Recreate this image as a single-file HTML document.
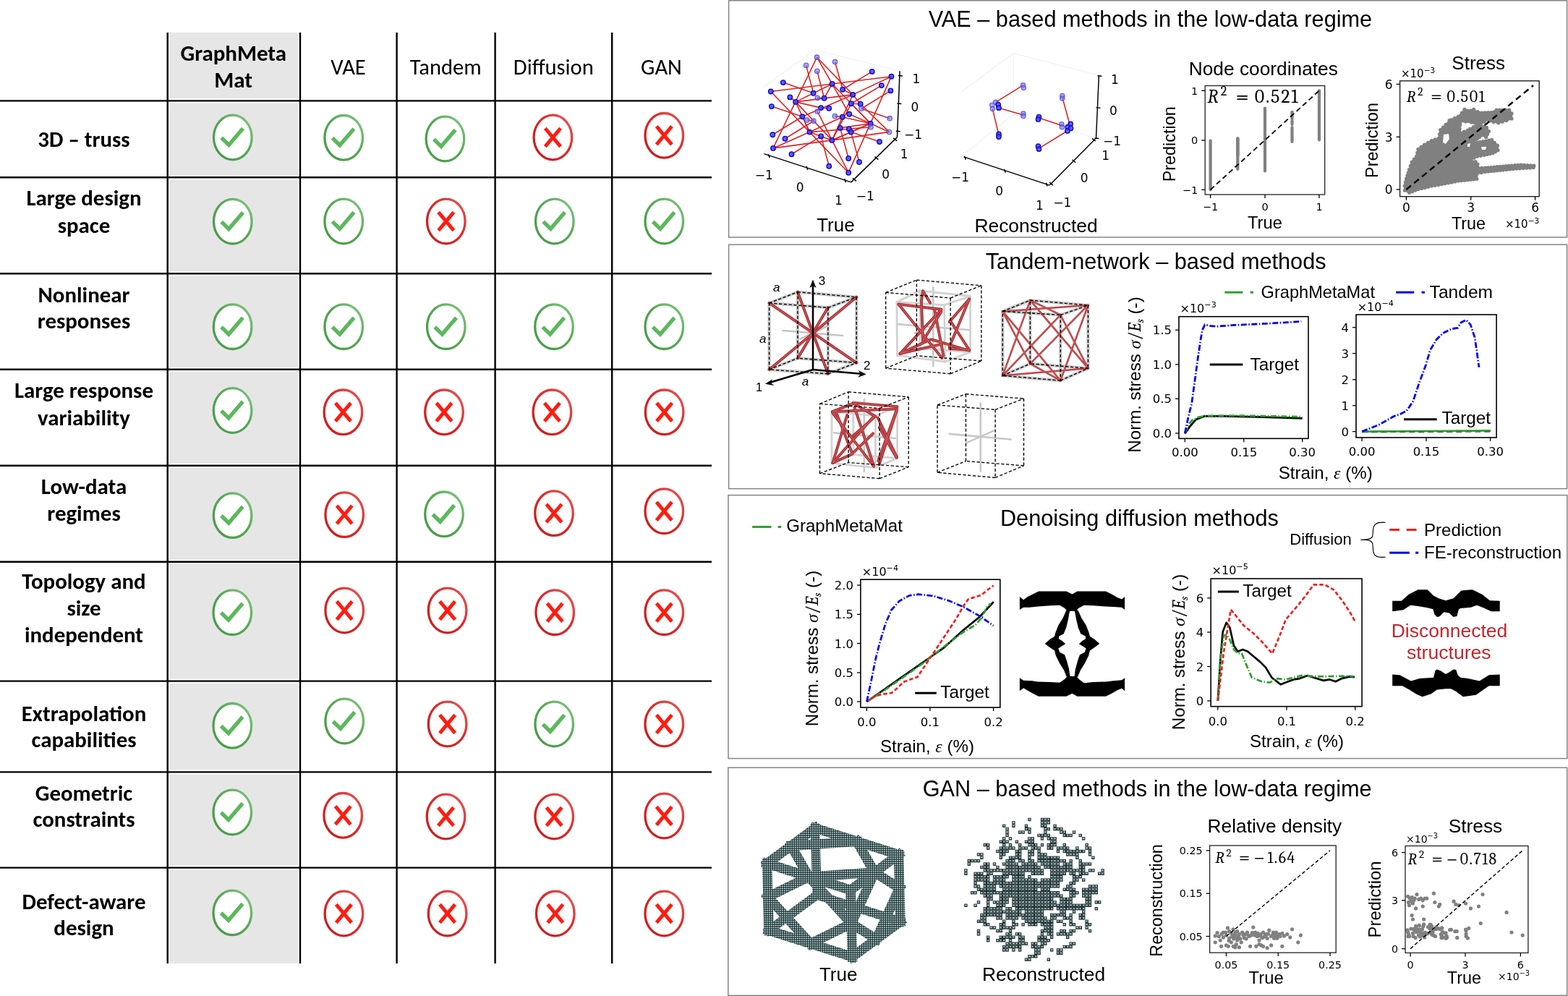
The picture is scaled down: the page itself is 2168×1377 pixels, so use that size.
<!DOCTYPE html>
<html><head><meta charset="utf-8"><title>GraphMetaMat comparison</title>
<style>html,body{margin:0;padding:0;background:#fff;width:2168px;height:1377px;overflow:hidden}svg{display:block}</style>
</head><body>
<svg width="2168" height="1377" viewBox="0 0 2168 1377">
<defs>
<linearGradient id="gg" x1="0" y1="1" x2="1" y2="0"><stop offset="0" stop-color="#469a46"/><stop offset="0.55" stop-color="#56a856"/><stop offset="1" stop-color="#86c886"/></linearGradient>
<linearGradient id="rg" x1="0" y1="1" x2="1" y2="0"><stop offset="0" stop-color="#c41c1c"/><stop offset="0.55" stop-color="#dc2a2a"/><stop offset="1" stop-color="#e65a5a"/></linearGradient>
<g id="ic"><ellipse cx="0" cy="0" rx="26.3" ry="30.8" fill="#fff" stroke="url(#gg)" stroke-width="3.3"/>
<polyline points="-15.6,0.4 -5.4,10.4 14.2,-12.4" fill="none" stroke="#5cb85c" stroke-width="5.4" stroke-linejoin="miter"/></g>
<g id="ix"><ellipse cx="0" cy="0" rx="26.3" ry="30.8" fill="#fff" stroke="url(#rg)" stroke-width="3.3"/>
<path d="M-10.6,-12.6 L10.6,12.6 M10.6,-12.6 L-10.6,12.6" fill="none" stroke="#ff1c10" stroke-width="5"/></g>
<pattern id="vox2" width="4.4" height="4.4" patternUnits="userSpaceOnUse"><rect width="4.4" height="4.4" fill="#1c2a2c"/><rect x="1.1" y="1.0" width="2.1" height="2.0" fill="#bfe4e4"/></pattern><pattern id="vox" width="3" height="3" patternUnits="userSpaceOnUse"><rect width="3" height="3" fill="#1c2a2c"/><rect x="0.8" y="0.7" width="1.9" height="1.7" fill="#c4eaea"/></pattern></defs>
<rect width="2168" height="1377" fill="#fff"/>
<g stroke="#f1f1f1" stroke-width="1.2" fill="none">
<polyline points="1055.2,120.7 1127,69 1243,98"/>
<polyline points="1127,69 1127,158 1055,212"/>
<polyline points="1127,158 1240,189"/>
</g>
<g stroke="#dc2424" stroke-width="1.6" fill="none">
<line x1="1129.5" y1="79.2" x2="1069" y2="204.9"/>
<line x1="1129.5" y1="79.2" x2="1150.6" y2="116"/>
<line x1="1129.5" y1="79.2" x2="1179.2" y2="130.9"/>
<line x1="1154.5" y1="85.5" x2="1165.2" y2="123.7"/>
<line x1="1114.6" y1="90.4" x2="1124.6" y2="128.8"/>
<line x1="1129.8" y1="98.4" x2="1139.6" y2="135.7"/>
<line x1="1205.7" y1="98.9" x2="1165.2" y2="123.7"/>
<line x1="1065.8" y1="126.5" x2="1232.5" y2="105.7"/>
<line x1="1232.5" y1="105.7" x2="1179.2" y2="130.9"/>
<line x1="1232.5" y1="105.7" x2="1173.2" y2="238.7"/>
<line x1="1082.8" y1="114.1" x2="1124.6" y2="128.8"/>
<line x1="1065.8" y1="126.5" x2="1119.4" y2="182.6"/>
<line x1="1100.1" y1="140.9" x2="1150.6" y2="116"/>
<line x1="1100.1" y1="140.9" x2="1179.2" y2="130.9"/>
<line x1="1100.1" y1="140.9" x2="1135.1" y2="149.1"/>
<line x1="1100.1" y1="140.9" x2="1150.4" y2="193.9"/>
<line x1="1100.1" y1="140.9" x2="1119.4" y2="182.6"/>
<line x1="1092.3" y1="134.4" x2="1100.1" y2="140.9"/>
<line x1="1066.8" y1="147.1" x2="1109.4" y2="161.2"/>
<line x1="1130.2" y1="135.4" x2="1139.6" y2="135.7"/>
<line x1="1150.6" y1="116" x2="1139.6" y2="135.7"/>
<line x1="1150.6" y1="116" x2="1174.3" y2="157.8"/>
<line x1="1150.6" y1="116" x2="1203.6" y2="170.8"/>
<line x1="1165.2" y1="123.7" x2="1179.2" y2="130.9"/>
<line x1="1218.8" y1="118.1" x2="1176.9" y2="143.3"/>
<line x1="1109.4" y1="161.2" x2="1179.2" y2="130.9"/>
<line x1="1179.2" y1="130.9" x2="1164.8" y2="161.8"/>
<line x1="1179.2" y1="130.9" x2="1189.7" y2="143.7"/>
<line x1="1176.9" y1="143.3" x2="1189.7" y2="143.7"/>
<line x1="1176.9" y1="143.3" x2="1203.6" y2="170.8"/>
<line x1="1231.4" y1="125.4" x2="1191" y2="150.2"/>
<line x1="1191" y1="150.2" x2="1230.2" y2="163.7"/>
<line x1="1189.7" y1="143.7" x2="1229.4" y2="182.4"/>
<line x1="1069" y1="204.9" x2="1119.4" y2="182.6"/>
<line x1="1069" y1="204.9" x2="1150.4" y2="193.9"/>
<line x1="1068.3" y1="186.3" x2="1109.4" y2="161.2"/>
<line x1="1085.5" y1="191.8" x2="1124.9" y2="167.2"/>
<line x1="1094.5" y1="213.2" x2="1135.2" y2="188.4"/>
<line x1="1119.4" y1="182.6" x2="1164.8" y2="161.8"/>
<line x1="1119.4" y1="182.6" x2="1204" y2="175.7"/>
<line x1="1109.4" y1="161.2" x2="1119.4" y2="182.6"/>
<line x1="1119.4" y1="182.6" x2="1173.2" y2="238.7"/>
<line x1="1135.2" y1="188.4" x2="1146.3" y2="229.8"/>
<line x1="1135.2" y1="188.4" x2="1150.4" y2="193.9"/>
<line x1="1119.4" y1="182.6" x2="1135.2" y2="188.4"/>
<line x1="1150.4" y1="193.9" x2="1176.9" y2="143.3"/>
<line x1="1150.4" y1="193.9" x2="1173.2" y2="238.7"/>
<line x1="1130.3" y1="154.1" x2="1150.4" y2="193.9"/>
<line x1="1174.3" y1="157.8" x2="1203.6" y2="170.8"/>
<line x1="1164.8" y1="161.8" x2="1203.6" y2="170.8"/>
<line x1="1203.6" y1="170.8" x2="1229.4" y2="182.4"/>
<line x1="1203.6" y1="170.8" x2="1150.4" y2="193.9"/>
<line x1="1203.6" y1="170.8" x2="1161.7" y2="176.9"/>
<line x1="1203.6" y1="170.8" x2="1176.6" y2="182.6"/>
<line x1="1176.6" y1="182.6" x2="1216" y2="196"/>
<line x1="1150.4" y1="193.9" x2="1229.4" y2="182.4"/>
<line x1="1150.4" y1="193.9" x2="1176.6" y2="182.6"/>
<line x1="1150.4" y1="193.9" x2="1164.8" y2="161.8"/>
<line x1="1161.7" y1="176.9" x2="1173.2" y2="219"/>
<line x1="1176.6" y1="182.6" x2="1188" y2="224"/>
<line x1="1135.1" y1="149.1" x2="1146.2" y2="149.8"/>
<line x1="1115.9" y1="166" x2="1124.9" y2="167.2"/>
<line x1="1154.4" y1="160.6" x2="1164.8" y2="161.8"/>
</g>
<circle cx="1129.5" cy="79.2" r="3.2" fill="#7474ee" fill-opacity="0.6" stroke="#5050dc" stroke-width="1.3" stroke-opacity="0.85"/>
<circle cx="1154.5" cy="85.5" r="3.2" fill="#7474ee" fill-opacity="0.6" stroke="#5050dc" stroke-width="1.3" stroke-opacity="0.85"/>
<circle cx="1114.6" cy="90.4" r="3.2" fill="#7474ee" fill-opacity="0.6" stroke="#5050dc" stroke-width="1.3" stroke-opacity="0.85"/>
<circle cx="1129.8" cy="98.4" r="3.2" fill="#7474ee" fill-opacity="0.6" stroke="#5050dc" stroke-width="1.3" stroke-opacity="0.85"/>
<circle cx="1205.7" cy="98.9" r="3.2" fill="#4a4af2" fill-opacity="0.85" stroke="#1010cc" stroke-width="1.5"/>
<circle cx="1232.5" cy="105.7" r="3.2" fill="#4a4af2" fill-opacity="0.85" stroke="#1010cc" stroke-width="1.5"/>
<circle cx="1082.8" cy="114.1" r="3.2" fill="#4a4af2" fill-opacity="0.85" stroke="#1010cc" stroke-width="1.5"/>
<circle cx="1150.6" cy="116" r="3.2" fill="#4a4af2" fill-opacity="0.85" stroke="#1010cc" stroke-width="1.5"/>
<circle cx="1218.8" cy="118.1" r="3.2" fill="#4a4af2" fill-opacity="0.85" stroke="#1010cc" stroke-width="1.5"/>
<circle cx="1165.2" cy="123.7" r="3.2" fill="#4a4af2" fill-opacity="0.85" stroke="#1010cc" stroke-width="1.5"/>
<circle cx="1065.8" cy="126.5" r="3.2" fill="#4a4af2" fill-opacity="0.85" stroke="#1010cc" stroke-width="1.5"/>
<circle cx="1231.4" cy="125.4" r="3.2" fill="#4a4af2" fill-opacity="0.85" stroke="#1010cc" stroke-width="1.5"/>
<circle cx="1124.6" cy="128.8" r="3.2" fill="#4a4af2" fill-opacity="0.85" stroke="#1010cc" stroke-width="1.5"/>
<circle cx="1179.2" cy="130.9" r="3.2" fill="#4a4af2" fill-opacity="0.85" stroke="#1010cc" stroke-width="1.5"/>
<circle cx="1092.3" cy="134.4" r="3.2" fill="#4a4af2" fill-opacity="0.85" stroke="#1010cc" stroke-width="1.5"/>
<circle cx="1130.2" cy="135.4" r="3.2" fill="#7474ee" fill-opacity="0.6" stroke="#5050dc" stroke-width="1.3" stroke-opacity="0.85"/>
<circle cx="1139.6" cy="135.7" r="3.2" fill="#4a4af2" fill-opacity="0.85" stroke="#1010cc" stroke-width="1.5"/>
<circle cx="1100.1" cy="140.9" r="3.2" fill="#4a4af2" fill-opacity="0.85" stroke="#1010cc" stroke-width="1.5"/>
<circle cx="1176.9" cy="143.3" r="3.2" fill="#4a4af2" fill-opacity="0.85" stroke="#1010cc" stroke-width="1.5"/>
<circle cx="1189.7" cy="143.7" r="3.2" fill="#4a4af2" fill-opacity="0.85" stroke="#1010cc" stroke-width="1.5"/>
<circle cx="1066.8" cy="147.1" r="3.2" fill="#4a4af2" fill-opacity="0.85" stroke="#1010cc" stroke-width="1.5"/>
<circle cx="1135.1" cy="149.1" r="3.2" fill="#4a4af2" fill-opacity="0.85" stroke="#1010cc" stroke-width="1.5"/>
<circle cx="1146.2" cy="149.8" r="3.2" fill="#4a4af2" fill-opacity="0.85" stroke="#1010cc" stroke-width="1.5"/>
<circle cx="1191" cy="150.2" r="3.2" fill="#7474ee" fill-opacity="0.6" stroke="#5050dc" stroke-width="1.3" stroke-opacity="0.85"/>
<circle cx="1130.3" cy="154.1" r="3.2" fill="#7474ee" fill-opacity="0.6" stroke="#5050dc" stroke-width="1.3" stroke-opacity="0.85"/>
<circle cx="1174.3" cy="157.8" r="3.2" fill="#4a4af2" fill-opacity="0.85" stroke="#1010cc" stroke-width="1.5"/>
<circle cx="1109.4" cy="161.2" r="3.2" fill="#4a4af2" fill-opacity="0.85" stroke="#1010cc" stroke-width="1.5"/>
<circle cx="1154.4" cy="160.6" r="3.2" fill="#7474ee" fill-opacity="0.6" stroke="#5050dc" stroke-width="1.3" stroke-opacity="0.85"/>
<circle cx="1164.8" cy="161.8" r="3.2" fill="#4a4af2" fill-opacity="0.85" stroke="#1010cc" stroke-width="1.5"/>
<circle cx="1230.2" cy="163.7" r="3.2" fill="#7474ee" fill-opacity="0.6" stroke="#5050dc" stroke-width="1.3" stroke-opacity="0.85"/>
<circle cx="1115.9" cy="166" r="3.2" fill="#7474ee" fill-opacity="0.6" stroke="#5050dc" stroke-width="1.3" stroke-opacity="0.85"/>
<circle cx="1124.9" cy="167.2" r="3.2" fill="#7474ee" fill-opacity="0.6" stroke="#5050dc" stroke-width="1.3" stroke-opacity="0.85"/>
<circle cx="1203.6" cy="170.8" r="3.2" fill="#4a4af2" fill-opacity="0.85" stroke="#1010cc" stroke-width="1.5"/>
<circle cx="1204" cy="175.7" r="3.2" fill="#7474ee" fill-opacity="0.6" stroke="#5050dc" stroke-width="1.3" stroke-opacity="0.85"/>
<circle cx="1161.7" cy="176.9" r="3.2" fill="#4a4af2" fill-opacity="0.85" stroke="#1010cc" stroke-width="1.5"/>
<circle cx="1173.9" cy="178.4" r="3.2" fill="#4a4af2" fill-opacity="0.85" stroke="#1010cc" stroke-width="1.5"/>
<circle cx="1176.6" cy="182.6" r="3.2" fill="#4a4af2" fill-opacity="0.85" stroke="#1010cc" stroke-width="1.5"/>
<circle cx="1119.4" cy="182.6" r="3.2" fill="#4a4af2" fill-opacity="0.85" stroke="#1010cc" stroke-width="1.5"/>
<circle cx="1229.4" cy="182.4" r="3.2" fill="#7474ee" fill-opacity="0.6" stroke="#5050dc" stroke-width="1.3" stroke-opacity="0.85"/>
<circle cx="1068.3" cy="186.3" r="3.2" fill="#4a4af2" fill-opacity="0.85" stroke="#1010cc" stroke-width="1.5"/>
<circle cx="1085.5" cy="191.8" r="3.2" fill="#4a4af2" fill-opacity="0.85" stroke="#1010cc" stroke-width="1.5"/>
<circle cx="1135.2" cy="188.4" r="3.2" fill="#4a4af2" fill-opacity="0.85" stroke="#1010cc" stroke-width="1.5"/>
<circle cx="1150.4" cy="193.9" r="3.2" fill="#4a4af2" fill-opacity="0.85" stroke="#1010cc" stroke-width="1.5"/>
<circle cx="1216" cy="196" r="3.2" fill="#4a4af2" fill-opacity="0.85" stroke="#1010cc" stroke-width="1.5"/>
<circle cx="1069" cy="204.9" r="3.2" fill="#4a4af2" fill-opacity="0.85" stroke="#1010cc" stroke-width="1.5"/>
<circle cx="1094.5" cy="213.2" r="3.2" fill="#4a4af2" fill-opacity="0.85" stroke="#1010cc" stroke-width="1.5"/>
<circle cx="1173.2" cy="219" r="3.2" fill="#4a4af2" fill-opacity="0.85" stroke="#1010cc" stroke-width="1.5"/>
<circle cx="1188" cy="224" r="3.2" fill="#4a4af2" fill-opacity="0.85" stroke="#1010cc" stroke-width="1.5"/>
<circle cx="1146.3" cy="229.8" r="3.2" fill="#4a4af2" fill-opacity="0.85" stroke="#1010cc" stroke-width="1.5"/>
<circle cx="1173.2" cy="238.7" r="3.2" fill="#4a4af2" fill-opacity="0.85" stroke="#1010cc" stroke-width="1.5"/>
<g stroke="#000" stroke-width="1.5" fill="none">
<line x1="1244.1" y1="98.3" x2="1240.5" y2="189.6"/>
<line x1="1056.4" y1="212.6" x2="1176.8" y2="251.9"/>
<line x1="1176.8" y1="251.9" x2="1240.5" y2="189.6"/>
<line x1="1242" y1="104.6" x2="1248" y2="105.1"/>
<line x1="1240.4" y1="143.1" x2="1246.4" y2="143.6"/>
<line x1="1238.8" y1="181.3" x2="1244.8" y2="181.8"/>
<line x1="1062.3" y1="213.3" x2="1064.3" y2="218.3"/>
<line x1="1114.9" y1="229.9" x2="1116.9" y2="234.9"/>
<line x1="1167.5" y1="247.1" x2="1169.5" y2="252.1"/>
<line x1="1179" y1="246.3" x2="1184" y2="250.3"/>
<line x1="1209.4" y1="216.7" x2="1214.4" y2="220.7"/>
<line x1="1235.2" y1="190.9" x2="1240.2" y2="194.9"/>
</g>
<text x="1266.8" y="115.4965" font-size="17px" font-family="'DejaVu Sans', sans-serif" text-anchor="middle" fill="#000"  textLength="10.83" lengthAdjust="spacingAndGlyphs">1</text>
<text x="1264.8" y="154.1965" font-size="17px" font-family="'DejaVu Sans', sans-serif" text-anchor="middle" fill="#000"  textLength="10.83" lengthAdjust="spacingAndGlyphs">0</text>
<text x="1262.6" y="191.5965" font-size="17px" font-family="'DejaVu Sans', sans-serif" text-anchor="middle" fill="#000"  textLength="25.06" lengthAdjust="spacingAndGlyphs">−1</text>
<text x="1056.4" y="248.39649999999997" font-size="17px" font-family="'DejaVu Sans', sans-serif" text-anchor="middle" fill="#000"  textLength="25.06" lengthAdjust="spacingAndGlyphs">−1</text>
<text x="1106.2" y="264.9965" font-size="17px" font-family="'DejaVu Sans', sans-serif" text-anchor="middle" fill="#000"  textLength="10.83" lengthAdjust="spacingAndGlyphs">0</text>
<text x="1159.4" y="282.9965" font-size="17px" font-family="'DejaVu Sans', sans-serif" text-anchor="middle" fill="#000"  textLength="10.83" lengthAdjust="spacingAndGlyphs">1</text>
<text x="1196.2" y="277.3965" font-size="17px" font-family="'DejaVu Sans', sans-serif" text-anchor="middle" fill="#000"  textLength="25.06" lengthAdjust="spacingAndGlyphs">−1</text>
<text x="1224.7" y="246.9965" font-size="17px" font-family="'DejaVu Sans', sans-serif" text-anchor="middle" fill="#000"  textLength="10.83" lengthAdjust="spacingAndGlyphs">0</text>
<text x="1250.2" y="219.29649999999998" font-size="17px" font-family="'DejaVu Sans', sans-serif" text-anchor="middle" fill="#000"  textLength="10.83" lengthAdjust="spacingAndGlyphs">1</text>
<g transform="translate(1310,60) scale(0.196078)">
<g stroke="#f1f1f1" stroke-width="6" fill="none">
<polyline points="95,345 465,70 1068,225"/><polyline points="465,70 465,500 95,800"/><polyline points="465,500 1048,668"/>
</g>
<g stroke="#dc2424" stroke-width="8" fill="none">
<line x1="340" y1="415" x2="533" y2="295"/>
<line x1="362" y1="455" x2="535" y2="505"/>
<line x1="318" y1="462" x2="362" y2="645"/>
<line x1="645" y1="525" x2="810" y2="580"/>
<line x1="810" y1="380" x2="862" y2="570"/>
<line x1="846" y1="617" x2="645" y2="740"/>
</g>
<circle cx="533" cy="295" r="16" fill="#7474ee" fill-opacity="0.6" stroke="#5050dc" stroke-width="6.5" stroke-opacity="0.85"/>
<circle cx="537" cy="313" r="16" fill="#7474ee" fill-opacity="0.6" stroke="#5050dc" stroke-width="6.5" stroke-opacity="0.85"/>
<circle cx="340" cy="415" r="16" fill="#7474ee" fill-opacity="0.6" stroke="#5050dc" stroke-width="6.5" stroke-opacity="0.85"/>
<circle cx="315" cy="435" r="16" fill="#7474ee" fill-opacity="0.6" stroke="#5050dc" stroke-width="6.5" stroke-opacity="0.85"/>
<circle cx="318" cy="462" r="16" fill="#7474ee" fill-opacity="0.6" stroke="#5050dc" stroke-width="6.5" stroke-opacity="0.85"/>
<circle cx="535" cy="495" r="16" fill="#7474ee" fill-opacity="0.6" stroke="#5050dc" stroke-width="6.5" stroke-opacity="0.85"/>
<circle cx="535" cy="512" r="16" fill="#7474ee" fill-opacity="0.6" stroke="#5050dc" stroke-width="6.5" stroke-opacity="0.85"/>
<circle cx="805" cy="570" r="16" fill="#7474ee" fill-opacity="0.6" stroke="#5050dc" stroke-width="6.5" stroke-opacity="0.85"/>
<circle cx="808" cy="590" r="16" fill="#7474ee" fill-opacity="0.6" stroke="#5050dc" stroke-width="6.5" stroke-opacity="0.85"/>
<circle cx="810" cy="370" r="16" fill="#7474ee" fill-opacity="0.6" stroke="#5050dc" stroke-width="6.5" stroke-opacity="0.85"/>
<circle cx="810" cy="388" r="16" fill="#7474ee" fill-opacity="0.6" stroke="#5050dc" stroke-width="6.5" stroke-opacity="0.85"/>
<circle cx="358" cy="432" r="16" fill="#4a4af2" fill-opacity="0.85" stroke="#1010cc" stroke-width="7.5"/>
<circle cx="362" cy="455" r="16" fill="#4a4af2" fill-opacity="0.85" stroke="#1010cc" stroke-width="7.5"/>
<circle cx="645" cy="518" r="16" fill="#4a4af2" fill-opacity="0.85" stroke="#1010cc" stroke-width="7.5"/>
<circle cx="640" cy="535" r="16" fill="#4a4af2" fill-opacity="0.85" stroke="#1010cc" stroke-width="7.5"/>
<circle cx="868" cy="568" r="16" fill="#4a4af2" fill-opacity="0.85" stroke="#1010cc" stroke-width="7.5"/>
<circle cx="848" cy="590" r="16" fill="#4a4af2" fill-opacity="0.85" stroke="#1010cc" stroke-width="7.5"/>
<circle cx="870" cy="598" r="16" fill="#4a4af2" fill-opacity="0.85" stroke="#1010cc" stroke-width="7.5"/>
<circle cx="846" cy="617" r="16" fill="#4a4af2" fill-opacity="0.85" stroke="#1010cc" stroke-width="7.5"/>
<circle cx="362" cy="640" r="16" fill="#4a4af2" fill-opacity="0.85" stroke="#1010cc" stroke-width="7.5"/>
<circle cx="362" cy="658" r="16" fill="#4a4af2" fill-opacity="0.85" stroke="#1010cc" stroke-width="7.5"/>
<circle cx="640" cy="725" r="16" fill="#4a4af2" fill-opacity="0.85" stroke="#1010cc" stroke-width="7.5"/>
<circle cx="645" cy="745" r="16" fill="#4a4af2" fill-opacity="0.85" stroke="#1010cc" stroke-width="7.5"/>
<g stroke="#000" stroke-width="7.5" fill="none">
<line x1="1068" y1="228" x2="1048" y2="668"/><line x1="1048" y1="668" x2="720" y2="1000"/><line x1="115" y1="800" x2="720" y2="1000"/>
<line x1="1058" y1="228" x2="1088" y2="231"/>
<line x1="1048" y1="452" x2="1078" y2="455"/>
<line x1="1038" y1="668" x2="1068" y2="671"/>
<line x1="121" y1="796" x2="129" y2="820"/>
<line x1="401" y1="888" x2="409" y2="912"/>
<line x1="696" y1="983" x2="704" y2="1007"/>
<line x1="1020" y1="670" x2="1044" y2="690"/>
<line x1="880" y1="820" x2="904" y2="840"/>
<line x1="720" y1="980" x2="744" y2="1000"/>
</g>
<text x="1180" y="286.6" font-size="86.7px" font-family="'DejaVu Sans', sans-serif" text-anchor="middle" fill="#000"  textLength="55.14" lengthAdjust="spacingAndGlyphs">1</text>
<text x="1170" y="506.6" font-size="86.7px" font-family="'DejaVu Sans', sans-serif" text-anchor="middle" fill="#000"  textLength="55.14" lengthAdjust="spacingAndGlyphs">0</text>
<text x="1160" y="721.6" font-size="86.7px" font-family="'DejaVu Sans', sans-serif" text-anchor="middle" fill="#000"  textLength="127.74" lengthAdjust="spacingAndGlyphs">−1</text>
<text x="1115" y="821.6" font-size="86.7px" font-family="'DejaVu Sans', sans-serif" text-anchor="middle" fill="#000"  textLength="55.14" lengthAdjust="spacingAndGlyphs">1</text>
<text x="965" y="981.6" font-size="86.7px" font-family="'DejaVu Sans', sans-serif" text-anchor="middle" fill="#000"  textLength="55.14" lengthAdjust="spacingAndGlyphs">0</text>
<text x="810" y="1151.6" font-size="86.7px" font-family="'DejaVu Sans', sans-serif" text-anchor="middle" fill="#000"  textLength="127.74" lengthAdjust="spacingAndGlyphs">−1</text>
<text x="90" y="976.6" font-size="86.7px" font-family="'DejaVu Sans', sans-serif" text-anchor="middle" fill="#000"  textLength="127.74" lengthAdjust="spacingAndGlyphs">−1</text>
<text x="365" y="1071.6" font-size="86.7px" font-family="'DejaVu Sans', sans-serif" text-anchor="middle" fill="#000"  textLength="55.14" lengthAdjust="spacingAndGlyphs">0</text>
<text x="650" y="1171.6" font-size="86.7px" font-family="'DejaVu Sans', sans-serif" text-anchor="middle" fill="#000"  textLength="55.14" lengthAdjust="spacingAndGlyphs">1</text>
</g>
<line x1="1673.6" y1="194.5" x2="1673.6" y2="262.3" stroke="#808080" stroke-width="4.2" stroke-linecap="round"/>
<line x1="1711.3" y1="191.5" x2="1711.3" y2="234" stroke="#808080" stroke-width="4.2" stroke-linecap="round"/>
<line x1="1749" y1="149.5" x2="1749" y2="236.5" stroke="#808080" stroke-width="4.2" stroke-linecap="round"/>
<line x1="1824" y1="125.3" x2="1824" y2="193.5" stroke="#808080" stroke-width="4.2" stroke-linecap="round"/>
<line x1="1786.5" y1="155" x2="1786.5" y2="164" stroke="#808080" stroke-width="4.4" stroke-linecap="round"/>
<line x1="1786.5" y1="167" x2="1786.5" y2="172" stroke="#808080" stroke-width="4.2" stroke-linecap="round"/>
<line x1="1786.5" y1="176" x2="1786.5" y2="196" stroke="#808080" stroke-width="4.2" stroke-linecap="round"/>
<line x1="1711.3" y1="191.5" x2="1711.3" y2="215" stroke="#808080" stroke-width="4.6" stroke-linecap="round"/>
<line x1="1673.6" y1="262.3" x2="1824" y2="125.3" stroke="#000" stroke-width="1.9" stroke-dasharray="7,4.5"/>
<polygon points="1942.3,263.1 1948.5,266.2 1960.9,261.6 1979.4,257.1 1997.9,253.8 2016.4,250.1 2041.8,247.3 2042.6,239.6 2053.5,237.4 2078.2,234.9 2096.7,233.1 2120.2,231.6 2120.8,229.1 2102.9,228.1 2078.2,230 2053.5,232.2 2044.2,232.4 2043,227 2040,223.5 2030,222.5 2029.2,222.1 2042.3,216.2 2052.1,214.3 2063.9,211.7 2071,207.7 2070.4,201.2 2062.5,193.4 2042.3,197.3 2037.7,196 2042.3,192.1 2048.8,186.8 2054.7,189.4 2058.6,181.6 2055.4,176.4 2042.3,173.1 2032.5,178.3 2029.2,180.3 2019.4,184.2 2018.1,177.7 2019.4,167.9 2026.6,167.9 2034.4,169.2 2047.5,171.1 2056.7,165.3 2065.2,168.5 2071.7,169.8 2082.8,166.6 2090,164 2090,156.8 2086.7,152.2 2069.1,152.2 2061.9,155.5 2048.8,156.1 2037.7,153 2025,153 2021.4,156.1 2016.1,161.3 2006.3,165.9 2004.1,166.7 1999.2,172.3 1991.7,179.7 1989.3,191.4 1979.4,194.5 1969.5,200.1 1960.9,206.3 1958.6,216.1 1952.2,224.2 1948.5,234.7 1944.6,247 1942.3,256.9" fill="#808080" stroke="#808080" stroke-width="2.5" stroke-linejoin="round"/>
<polygon points="1996,186 2003,185 2004,192 1999,199 1995,197" fill="#fff"/>
<polygon points="2048,203 2055,203 2054,207 2049,207" fill="#fff"/>
<polygon points="2029,199 2033,198 2032,203 2029,203" fill="#fff"/>
<circle cx="1942.3" cy="263.1" r="2.6" fill="#808080"/>
<circle cx="1948.5" cy="266.2" r="2.6" fill="#808080"/>
<circle cx="1952.6" cy="264.7" r="2.6" fill="#808080"/>
<circle cx="1956.8" cy="263.1" r="2.6" fill="#808080"/>
<circle cx="1960.9" cy="261.6" r="2.6" fill="#808080"/>
<circle cx="1965.5" cy="260.5" r="2.6" fill="#808080"/>
<circle cx="1970.2" cy="259.4" r="2.6" fill="#808080"/>
<circle cx="1974.8" cy="258.2" r="2.6" fill="#808080"/>
<circle cx="1979.4" cy="257.1" r="2.6" fill="#808080"/>
<circle cx="1984.0" cy="256.3" r="2.6" fill="#808080"/>
<circle cx="1988.7" cy="255.5" r="2.6" fill="#808080"/>
<circle cx="1993.3" cy="254.6" r="2.6" fill="#808080"/>
<circle cx="1997.9" cy="253.8" r="2.6" fill="#808080"/>
<circle cx="2002.5" cy="252.9" r="2.6" fill="#808080"/>
<circle cx="2007.2" cy="251.9" r="2.6" fill="#808080"/>
<circle cx="2011.8" cy="251.0" r="2.6" fill="#808080"/>
<circle cx="2016.4" cy="250.1" r="2.6" fill="#808080"/>
<circle cx="2020.6" cy="249.6" r="2.6" fill="#808080"/>
<circle cx="2024.9" cy="249.2" r="2.6" fill="#808080"/>
<circle cx="2029.1" cy="248.7" r="2.6" fill="#808080"/>
<circle cx="2033.3" cy="248.2" r="2.6" fill="#808080"/>
<circle cx="2037.6" cy="247.8" r="2.6" fill="#808080"/>
<circle cx="2041.8" cy="247.3" r="2.6" fill="#808080"/>
<circle cx="2042.6" cy="239.6" r="2.6" fill="#808080"/>
<circle cx="2048.1" cy="238.5" r="2.6" fill="#808080"/>
<circle cx="2053.5" cy="237.4" r="2.6" fill="#808080"/>
<circle cx="2057.6" cy="237.0" r="2.6" fill="#808080"/>
<circle cx="2061.7" cy="236.6" r="2.6" fill="#808080"/>
<circle cx="2065.8" cy="236.2" r="2.6" fill="#808080"/>
<circle cx="2070.0" cy="235.7" r="2.6" fill="#808080"/>
<circle cx="2074.1" cy="235.3" r="2.6" fill="#808080"/>
<circle cx="2078.2" cy="234.9" r="2.6" fill="#808080"/>
<circle cx="2082.8" cy="234.4" r="2.6" fill="#808080"/>
<circle cx="2087.4" cy="234.0" r="2.6" fill="#808080"/>
<circle cx="2092.1" cy="233.6" r="2.6" fill="#808080"/>
<circle cx="2096.7" cy="233.1" r="2.6" fill="#808080"/>
<circle cx="2101.4" cy="232.8" r="2.6" fill="#808080"/>
<circle cx="2106.1" cy="232.5" r="2.6" fill="#808080"/>
<circle cx="2110.8" cy="232.2" r="2.6" fill="#808080"/>
<circle cx="2115.5" cy="231.9" r="2.6" fill="#808080"/>
<circle cx="2120.2" cy="231.6" r="2.6" fill="#808080"/>
<circle cx="2120.8" cy="229.1" r="2.6" fill="#808080"/>
<circle cx="2116.3" cy="228.8" r="2.6" fill="#808080"/>
<circle cx="2111.9" cy="228.6" r="2.6" fill="#808080"/>
<circle cx="2107.4" cy="228.3" r="2.6" fill="#808080"/>
<circle cx="2102.9" cy="228.1" r="2.6" fill="#808080"/>
<circle cx="2098.8" cy="228.4" r="2.6" fill="#808080"/>
<circle cx="2094.7" cy="228.7" r="2.6" fill="#808080"/>
<circle cx="2090.6" cy="229.1" r="2.6" fill="#808080"/>
<circle cx="2086.4" cy="229.4" r="2.6" fill="#808080"/>
<circle cx="2082.3" cy="229.7" r="2.6" fill="#808080"/>
<circle cx="2078.2" cy="230.0" r="2.6" fill="#808080"/>
<circle cx="2074.1" cy="230.4" r="2.6" fill="#808080"/>
<circle cx="2070.0" cy="230.7" r="2.6" fill="#808080"/>
<circle cx="2065.8" cy="231.1" r="2.6" fill="#808080"/>
<circle cx="2061.7" cy="231.5" r="2.6" fill="#808080"/>
<circle cx="2057.6" cy="231.8" r="2.6" fill="#808080"/>
<circle cx="2053.5" cy="232.2" r="2.6" fill="#808080"/>
<circle cx="2048.8" cy="232.3" r="2.6" fill="#808080"/>
<circle cx="2044.2" cy="232.4" r="2.6" fill="#808080"/>
<circle cx="2043.0" cy="227.0" r="2.6" fill="#808080"/>
<circle cx="2040.0" cy="223.5" r="2.6" fill="#808080"/>
<circle cx="2035.0" cy="223.0" r="2.6" fill="#808080"/>
<circle cx="2030.0" cy="222.5" r="2.6" fill="#808080"/>
<circle cx="2029.2" cy="222.1" r="2.6" fill="#808080"/>
<circle cx="2033.6" cy="220.1" r="2.6" fill="#808080"/>
<circle cx="2037.9" cy="218.2" r="2.6" fill="#808080"/>
<circle cx="2042.3" cy="216.2" r="2.6" fill="#808080"/>
<circle cx="2047.2" cy="215.2" r="2.6" fill="#808080"/>
<circle cx="2052.1" cy="214.3" r="2.6" fill="#808080"/>
<circle cx="2056.0" cy="213.4" r="2.6" fill="#808080"/>
<circle cx="2060.0" cy="212.6" r="2.6" fill="#808080"/>
<circle cx="2063.9" cy="211.7" r="2.6" fill="#808080"/>
<circle cx="2067.4" cy="209.7" r="2.6" fill="#808080"/>
<circle cx="2071.0" cy="207.7" r="2.6" fill="#808080"/>
<circle cx="2070.4" cy="201.2" r="2.6" fill="#808080"/>
<circle cx="2066.4" cy="197.3" r="2.6" fill="#808080"/>
<circle cx="2062.5" cy="193.4" r="2.6" fill="#808080"/>
<circle cx="2058.5" cy="194.2" r="2.6" fill="#808080"/>
<circle cx="2054.4" cy="195.0" r="2.6" fill="#808080"/>
<circle cx="2050.4" cy="195.7" r="2.6" fill="#808080"/>
<circle cx="2046.3" cy="196.5" r="2.6" fill="#808080"/>
<circle cx="2042.3" cy="197.3" r="2.6" fill="#808080"/>
<circle cx="2037.7" cy="196.0" r="2.6" fill="#808080"/>
<circle cx="2042.3" cy="192.1" r="2.6" fill="#808080"/>
<circle cx="2045.6" cy="189.4" r="2.6" fill="#808080"/>
<circle cx="2048.8" cy="186.8" r="2.6" fill="#808080"/>
<circle cx="2054.7" cy="189.4" r="2.6" fill="#808080"/>
<circle cx="2056.6" cy="185.5" r="2.6" fill="#808080"/>
<circle cx="2058.6" cy="181.6" r="2.6" fill="#808080"/>
<circle cx="2055.4" cy="176.4" r="2.6" fill="#808080"/>
<circle cx="2051.0" cy="175.3" r="2.6" fill="#808080"/>
<circle cx="2046.7" cy="174.2" r="2.6" fill="#808080"/>
<circle cx="2042.3" cy="173.1" r="2.6" fill="#808080"/>
<circle cx="2037.4" cy="175.7" r="2.6" fill="#808080"/>
<circle cx="2032.5" cy="178.3" r="2.6" fill="#808080"/>
<circle cx="2029.2" cy="180.3" r="2.6" fill="#808080"/>
<circle cx="2024.3" cy="182.2" r="2.6" fill="#808080"/>
<circle cx="2019.4" cy="184.2" r="2.6" fill="#808080"/>
<circle cx="2018.1" cy="177.7" r="2.6" fill="#808080"/>
<circle cx="2018.8" cy="172.8" r="2.6" fill="#808080"/>
<circle cx="2019.4" cy="167.9" r="2.6" fill="#808080"/>
<circle cx="2026.6" cy="167.9" r="2.6" fill="#808080"/>
<circle cx="2034.4" cy="169.2" r="2.6" fill="#808080"/>
<circle cx="2038.8" cy="169.8" r="2.6" fill="#808080"/>
<circle cx="2043.1" cy="170.5" r="2.6" fill="#808080"/>
<circle cx="2047.5" cy="171.1" r="2.6" fill="#808080"/>
<circle cx="2052.1" cy="168.2" r="2.6" fill="#808080"/>
<circle cx="2056.7" cy="165.3" r="2.6" fill="#808080"/>
<circle cx="2060.9" cy="166.9" r="2.6" fill="#808080"/>
<circle cx="2065.2" cy="168.5" r="2.6" fill="#808080"/>
<circle cx="2071.7" cy="169.8" r="2.6" fill="#808080"/>
<circle cx="2077.2" cy="168.2" r="2.6" fill="#808080"/>
<circle cx="2082.8" cy="166.6" r="2.6" fill="#808080"/>
<circle cx="2090.0" cy="164.0" r="2.6" fill="#808080"/>
<circle cx="2090.0" cy="156.8" r="2.6" fill="#808080"/>
<circle cx="2086.7" cy="152.2" r="2.6" fill="#808080"/>
<circle cx="2082.3" cy="152.2" r="2.6" fill="#808080"/>
<circle cx="2077.9" cy="152.2" r="2.6" fill="#808080"/>
<circle cx="2073.5" cy="152.2" r="2.6" fill="#808080"/>
<circle cx="2069.1" cy="152.2" r="2.6" fill="#808080"/>
<circle cx="2061.9" cy="155.5" r="2.6" fill="#808080"/>
<circle cx="2057.5" cy="155.7" r="2.6" fill="#808080"/>
<circle cx="2053.2" cy="155.9" r="2.6" fill="#808080"/>
<circle cx="2048.8" cy="156.1" r="2.6" fill="#808080"/>
<circle cx="2043.2" cy="154.6" r="2.6" fill="#808080"/>
<circle cx="2037.7" cy="153.0" r="2.6" fill="#808080"/>
<circle cx="2033.5" cy="153.0" r="2.6" fill="#808080"/>
<circle cx="2029.2" cy="153.0" r="2.6" fill="#808080"/>
<circle cx="2025.0" cy="153.0" r="2.6" fill="#808080"/>
<circle cx="2021.4" cy="156.1" r="2.6" fill="#808080"/>
<circle cx="2016.1" cy="161.3" r="2.6" fill="#808080"/>
<circle cx="2011.2" cy="163.6" r="2.6" fill="#808080"/>
<circle cx="2006.3" cy="165.9" r="2.6" fill="#808080"/>
<circle cx="2004.1" cy="166.7" r="2.6" fill="#808080"/>
<circle cx="1999.2" cy="172.3" r="2.6" fill="#808080"/>
<circle cx="1995.5" cy="176.0" r="2.6" fill="#808080"/>
<circle cx="1991.7" cy="179.7" r="2.6" fill="#808080"/>
<circle cx="1990.5" cy="185.6" r="2.6" fill="#808080"/>
<circle cx="1989.3" cy="191.4" r="2.6" fill="#808080"/>
<circle cx="1984.3" cy="192.9" r="2.6" fill="#808080"/>
<circle cx="1979.4" cy="194.5" r="2.6" fill="#808080"/>
<circle cx="1974.5" cy="197.3" r="2.6" fill="#808080"/>
<circle cx="1969.5" cy="200.1" r="2.6" fill="#808080"/>
<circle cx="1965.2" cy="203.2" r="2.6" fill="#808080"/>
<circle cx="1960.9" cy="206.3" r="2.6" fill="#808080"/>
<circle cx="1959.8" cy="211.2" r="2.6" fill="#808080"/>
<circle cx="1958.6" cy="216.1" r="2.6" fill="#808080"/>
<circle cx="1955.4" cy="220.1" r="2.6" fill="#808080"/>
<circle cx="1952.2" cy="224.2" r="2.6" fill="#808080"/>
<circle cx="1950.3" cy="229.4" r="2.6" fill="#808080"/>
<circle cx="1948.5" cy="234.7" r="2.6" fill="#808080"/>
<circle cx="1947.2" cy="238.8" r="2.6" fill="#808080"/>
<circle cx="1945.9" cy="242.9" r="2.6" fill="#808080"/>
<circle cx="1944.6" cy="247.0" r="2.6" fill="#808080"/>
<circle cx="1943.4" cy="251.9" r="2.6" fill="#808080"/>
<circle cx="1942.3" cy="256.9" r="2.6" fill="#808080"/>
<circle cx="2025" cy="151.5" r="2.7" fill="#808080"/>
<circle cx="2037.7" cy="151.5" r="2.7" fill="#808080"/>
<circle cx="2042.3" cy="173.1" r="2.7" fill="#808080"/>
<line x1="1944.4" y1="262" x2="2120" y2="118" stroke="#000" stroke-width="2.4" stroke-dasharray="8.5,5.5"/>
<g transform="translate(1000,330) scale(0.254130)"><g stroke="#cbcbcb" stroke-width="17.31" stroke-linecap="round" fill="none"><line x1="250" y1="350" x2="570" y2="375"/><line x1="570" y1="375" x2="570" y2="735"/><line x1="570" y1="735" x2="250" y2="712"/><line x1="250" y1="712" x2="250" y2="350"/><line x1="405" y1="290" x2="725" y2="318"/><line x1="725" y1="318" x2="725" y2="675"/><line x1="725" y1="675" x2="405" y2="650"/><line x1="405" y1="650" x2="405" y2="290"/><line x1="250" y1="350" x2="405" y2="290"/><line x1="570" y1="375" x2="725" y2="318"/><line x1="570" y1="735" x2="725" y2="675"/><line x1="250" y1="712" x2="405" y2="650"/></g><g stroke="#c4c4c4" stroke-width="10.23" stroke-linecap="round" fill="none"><line x1="325" y1="500" x2="650" y2="527"/><line x1="420" y1="545" x2="560" y2="478"/></g><g stroke="#a83034" stroke-width="15.35" stroke-linecap="round" fill="none"><line x1="250" y1="350" x2="725" y2="675"/><line x1="725" y1="318" x2="250" y2="712"/><line x1="405" y1="290" x2="570" y2="735"/><line x1="570" y1="375" x2="405" y2="650"/></g><g stroke="#d66466" stroke-width="4.72" stroke-linecap="round" fill="none" opacity="0.8"><line x1="250" y1="350" x2="725" y2="675"/><line x1="725" y1="318" x2="250" y2="712"/><line x1="405" y1="290" x2="570" y2="735"/><line x1="570" y1="375" x2="405" y2="650"/></g><g stroke="#000" stroke-width="5.31" stroke-dasharray="16.5,10.2" fill="none"><line x1="250" y1="350" x2="570" y2="375"/><line x1="570" y1="375" x2="570" y2="735"/><line x1="570" y1="735" x2="250" y2="712"/><line x1="250" y1="712" x2="250" y2="350"/><line x1="405" y1="290" x2="725" y2="318"/><line x1="725" y1="318" x2="725" y2="675"/><line x1="725" y1="675" x2="405" y2="650"/><line x1="405" y1="650" x2="405" y2="290"/><line x1="250" y1="350" x2="405" y2="290"/><line x1="570" y1="375" x2="725" y2="318"/><line x1="570" y1="735" x2="725" y2="675"/><line x1="250" y1="712" x2="405" y2="650"/></g><g stroke="#000" stroke-width="10.2" fill="none" stroke-linecap="butt"><line x1="488" y1="712" x2="488" y2="240"/><line x1="488" y1="712" x2="760" y2="736"/><line x1="488" y1="712" x2="245" y2="785"/></g><g fill="#000" stroke="none"><polygon points="488,222 470,268 488,256 506,268"/><polygon points="778,738 735,716 747,736 733,755"/><polygon points="228,790 268,764 258,783 276,799"/></g><text x="537" y="252.0822" font-size="66.9px" font-family="'Liberation Sans', Arial, sans-serif" text-anchor="middle" fill="#000"  textLength="37.26" lengthAdjust="spacingAndGlyphs">3</text><text x="782" y="712.0822" font-size="66.9px" font-family="'Liberation Sans', Arial, sans-serif" text-anchor="middle" fill="#000"  textLength="37.26" lengthAdjust="spacingAndGlyphs">2</text><text x="195" y="832.0822" font-size="66.9px" font-family="'Liberation Sans', Arial, sans-serif" text-anchor="middle" fill="#000"  textLength="37.26" lengthAdjust="spacingAndGlyphs">1</text><text x="290" y="285.4" font-size="66.9px" font-family="'Liberation Sans', Arial, sans-serif" text-anchor="middle" fill="#000" font-style="italic" textLength="37.26" lengthAdjust="spacingAndGlyphs">a</text><text x="215" y="567.4" font-size="66.9px" font-family="'Liberation Sans', Arial, sans-serif" text-anchor="middle" fill="#000" font-style="italic" textLength="37.26" lengthAdjust="spacingAndGlyphs">a</text><text x="447" y="797.4" font-size="66.9px" font-family="'Liberation Sans', Arial, sans-serif" text-anchor="middle" fill="#000" font-style="italic" textLength="37.26" lengthAdjust="spacingAndGlyphs">a</text><g stroke="#cbcbcb" stroke-width="17.31" stroke-linecap="round" fill="none"><line x1="1520" y1="395" x2="1835" y2="415"/><line x1="1835" y1="415" x2="1835" y2="772"/><line x1="1835" y1="772" x2="1520" y2="745"/><line x1="1520" y1="745" x2="1520" y2="395"/><line x1="1670" y1="335" x2="1985" y2="362"/><line x1="1985" y1="362" x2="1985" y2="705"/><line x1="1985" y1="705" x2="1670" y2="680"/><line x1="1670" y1="680" x2="1670" y2="335"/><line x1="1520" y1="395" x2="1670" y2="335"/><line x1="1835" y1="415" x2="1985" y2="362"/><line x1="1835" y1="772" x2="1985" y2="705"/><line x1="1520" y1="745" x2="1670" y2="680"/></g><g stroke="#a83034" stroke-width="9.84" stroke-linecap="round" fill="none"><line x1="1520" y1="395" x2="1835" y2="772"/><line x1="1835" y1="415" x2="1520" y2="745"/><line x1="1670" y1="335" x2="1985" y2="705"/><line x1="1985" y1="362" x2="1670" y2="680"/><line x1="1520" y1="395" x2="1985" y2="362"/><line x1="1670" y1="335" x2="1835" y2="415"/><line x1="1520" y1="745" x2="1985" y2="705"/><line x1="1670" y1="680" x2="1835" y2="772"/><line x1="1520" y1="395" x2="1670" y2="680"/><line x1="1670" y1="335" x2="1520" y2="745"/><line x1="1835" y1="415" x2="1985" y2="705"/><line x1="1985" y1="362" x2="1835" y2="772"/></g><g stroke="#d66466" stroke-width="4.72" stroke-linecap="round" fill="none" opacity="0.8"><line x1="1520" y1="395" x2="1835" y2="772"/><line x1="1835" y1="415" x2="1520" y2="745"/><line x1="1670" y1="335" x2="1985" y2="705"/><line x1="1985" y1="362" x2="1670" y2="680"/><line x1="1520" y1="395" x2="1985" y2="362"/><line x1="1670" y1="335" x2="1835" y2="415"/><line x1="1520" y1="745" x2="1985" y2="705"/><line x1="1670" y1="680" x2="1835" y2="772"/><line x1="1520" y1="395" x2="1670" y2="680"/><line x1="1670" y1="335" x2="1520" y2="745"/><line x1="1835" y1="415" x2="1985" y2="705"/><line x1="1985" y1="362" x2="1835" y2="772"/></g><g stroke="#000" stroke-width="5.31" stroke-dasharray="16.5,10.2" fill="none"><line x1="1520" y1="395" x2="1835" y2="415"/><line x1="1835" y1="415" x2="1835" y2="772"/><line x1="1835" y1="772" x2="1520" y2="745"/><line x1="1520" y1="745" x2="1520" y2="395"/><line x1="1670" y1="335" x2="1985" y2="362"/><line x1="1985" y1="362" x2="1985" y2="705"/><line x1="1985" y1="705" x2="1670" y2="680"/><line x1="1670" y1="680" x2="1670" y2="335"/><line x1="1520" y1="395" x2="1670" y2="335"/><line x1="1835" y1="415" x2="1985" y2="362"/><line x1="1835" y1="772" x2="1985" y2="705"/><line x1="1520" y1="745" x2="1670" y2="680"/></g><g stroke="#c8c8c8" stroke-width="10.23" stroke-linecap="round" fill="none"><line x1="1400" y1="895" x2="1400" y2="1265"/><line x1="1230" y1="1062" x2="1565" y2="1092"/><line x1="1320" y1="1112" x2="1470" y2="1045"/></g><g stroke="#000" stroke-width="5.31" stroke-dasharray="16.5,10.2" fill="none"><line x1="1165" y1="905" x2="1480" y2="930"/><line x1="1480" y1="930" x2="1480" y2="1300"/><line x1="1480" y1="1300" x2="1165" y2="1272"/><line x1="1165" y1="1272" x2="1165" y2="905"/><line x1="1320" y1="845" x2="1635" y2="870"/><line x1="1635" y1="870" x2="1635" y2="1235"/><line x1="1635" y1="1235" x2="1320" y2="1210"/><line x1="1320" y1="1210" x2="1320" y2="845"/><line x1="1165" y1="905" x2="1320" y2="845"/><line x1="1480" y1="930" x2="1635" y2="870"/><line x1="1480" y1="1300" x2="1635" y2="1235"/><line x1="1165" y1="1272" x2="1320" y2="1210"/></g></g>
<g transform="translate(1215,380) scale(0.101698)"><g stroke="#c8c8c8" stroke-width="25.57" stroke-linecap="round" fill="none"><line x1="740" y1="170" x2="740" y2="1240"/><line x1="250" y1="670" x2="1240" y2="750"/><line x1="490" y1="790" x2="640" y2="740"/></g><g stroke="#d2d2d2" stroke-width="27.53" stroke-linecap="round" fill="none"><line x1="245" y1="370" x2="890" y2="410"/><line x1="890" y1="410" x2="905" y2="1180"/><line x1="905" y1="1180" x2="250" y2="1095"/><line x1="250" y1="1095" x2="245" y2="370"/><line x1="560" y1="215" x2="1245" y2="290"/><line x1="1245" y1="290" x2="1245" y2="1050"/><line x1="1245" y1="1050" x2="560" y2="1000"/><line x1="560" y1="1000" x2="560" y2="215"/><line x1="245" y1="370" x2="560" y2="215"/><line x1="890" y1="410" x2="1245" y2="290"/><line x1="905" y1="1180" x2="1245" y2="1050"/><line x1="250" y1="1095" x2="560" y2="1000"/></g><g stroke="#a83034" stroke-width="38.35" stroke-linecap="round" fill="none"><line x1="270" y1="400" x2="860" y2="1130"/><line x1="270" y1="400" x2="850" y2="470"/><line x1="850" y1="470" x2="290" y2="1070"/><line x1="290" y1="1070" x2="860" y2="940"/><line x1="290" y1="1070" x2="700" y2="880"/><line x1="600" y1="220" x2="580" y2="360"/><line x1="600" y1="220" x2="700" y2="380"/><line x1="580" y1="350" x2="600" y2="900"/><line x1="600" y1="900" x2="850" y2="500"/><line x1="1230" y1="330" x2="960" y2="640"/><line x1="1230" y1="330" x2="960" y2="980"/><line x1="970" y1="620" x2="1230" y2="1020"/><line x1="960" y1="1000" x2="1230" y2="1020"/><line x1="720" y1="880" x2="1230" y2="1030"/><line x1="760" y1="480" x2="880" y2="1100"/></g><g stroke="#d66466" stroke-width="11.80" stroke-linecap="round" fill="none" opacity="0.8"><line x1="270" y1="400" x2="860" y2="1130"/><line x1="270" y1="400" x2="850" y2="470"/><line x1="850" y1="470" x2="290" y2="1070"/><line x1="290" y1="1070" x2="860" y2="940"/><line x1="290" y1="1070" x2="700" y2="880"/><line x1="600" y1="220" x2="580" y2="360"/><line x1="600" y1="220" x2="700" y2="380"/><line x1="580" y1="350" x2="600" y2="900"/><line x1="600" y1="900" x2="850" y2="500"/><line x1="1230" y1="330" x2="960" y2="640"/><line x1="1230" y1="330" x2="960" y2="980"/><line x1="970" y1="620" x2="1230" y2="1020"/><line x1="960" y1="1000" x2="1230" y2="1020"/><line x1="720" y1="880" x2="1230" y2="1030"/><line x1="760" y1="480" x2="880" y2="1100"/></g><g stroke="#000" stroke-width="13.27" stroke-dasharray="41.3,25.6" fill="none"><line x1="95" y1="240" x2="975" y2="315"/><line x1="975" y1="315" x2="975" y2="1345"/><line x1="975" y1="1345" x2="95" y2="1270"/><line x1="95" y1="1270" x2="95" y2="240"/><line x1="515" y1="70" x2="1395" y2="145"/><line x1="1395" y1="145" x2="1395" y2="1170"/><line x1="1395" y1="1170" x2="515" y2="1100"/><line x1="515" y1="1100" x2="515" y2="70"/><line x1="95" y1="240" x2="515" y2="70"/><line x1="975" y1="315" x2="1395" y2="145"/><line x1="975" y1="1345" x2="1395" y2="1170"/><line x1="95" y1="1270" x2="515" y2="1100"/></g></g>
<g transform="translate(1125,538) scale(0.094402)"><g stroke="#c8c8c8" stroke-width="27.54" stroke-linecap="round" fill="none"><line x1="740" y1="150" x2="740" y2="1210"/><line x1="300" y1="640" x2="1200" y2="720"/></g><g stroke="#d2d2d2" stroke-width="29.66" stroke-linecap="round" fill="none"><line x1="265" y1="330" x2="905" y2="390"/><line x1="905" y1="390" x2="905" y2="1150"/><line x1="905" y1="1150" x2="265" y2="1085"/><line x1="265" y1="1085" x2="265" y2="330"/><line x1="580" y1="195" x2="1225" y2="260"/><line x1="1225" y1="260" x2="1225" y2="1010"/><line x1="1225" y1="1010" x2="580" y2="960"/><line x1="580" y1="960" x2="580" y2="195"/><line x1="265" y1="330" x2="580" y2="195"/><line x1="905" y1="390" x2="1225" y2="260"/><line x1="905" y1="1150" x2="1225" y2="1010"/><line x1="265" y1="1085" x2="580" y2="960"/></g><g stroke="#a83034" stroke-width="41.31" stroke-linecap="round" fill="none"><line x1="275" y1="345" x2="880" y2="1130"/><line x1="880" y1="400" x2="280" y2="1080"/><line x1="330" y1="340" x2="560" y2="930"/><line x1="275" y1="330" x2="580" y2="210"/><line x1="580" y1="200" x2="1225" y2="255"/><line x1="275" y1="330" x2="1220" y2="290"/><line x1="590" y1="210" x2="905" y2="400"/><line x1="490" y1="380" x2="280" y2="1080"/><line x1="560" y1="700" x2="880" y2="420"/><line x1="560" y1="950" x2="870" y2="650"/><line x1="600" y1="270" x2="880" y2="1120"/><line x1="940" y1="420" x2="1220" y2="1000"/><line x1="1220" y1="290" x2="945" y2="1050"/><line x1="960" y1="560" x2="1210" y2="1000"/><line x1="1220" y1="300" x2="960" y2="1100"/><line x1="280" y1="1080" x2="560" y2="950"/></g><g stroke="#d66466" stroke-width="12.71" stroke-linecap="round" fill="none" opacity="0.8"><line x1="275" y1="345" x2="880" y2="1130"/><line x1="880" y1="400" x2="280" y2="1080"/><line x1="330" y1="340" x2="560" y2="930"/><line x1="275" y1="330" x2="580" y2="210"/><line x1="580" y1="200" x2="1225" y2="255"/><line x1="275" y1="330" x2="1220" y2="290"/><line x1="590" y1="210" x2="905" y2="400"/><line x1="490" y1="380" x2="280" y2="1080"/><line x1="560" y1="700" x2="880" y2="420"/><line x1="560" y1="950" x2="870" y2="650"/><line x1="600" y1="270" x2="880" y2="1120"/><line x1="940" y1="420" x2="1220" y2="1000"/><line x1="1220" y1="290" x2="945" y2="1050"/><line x1="960" y1="560" x2="1210" y2="1000"/><line x1="1220" y1="300" x2="960" y2="1100"/><line x1="280" y1="1080" x2="560" y2="950"/></g><g stroke="#000" stroke-width="14.30" stroke-dasharray="44.5,27.5" fill="none"><line x1="90" y1="215" x2="965" y2="280"/><line x1="965" y1="280" x2="965" y2="1310"/><line x1="965" y1="1310" x2="90" y2="1235"/><line x1="90" y1="1235" x2="90" y2="215"/><line x1="510" y1="40" x2="1390" y2="115"/><line x1="1390" y1="115" x2="1390" y2="1140"/><line x1="1390" y1="1140" x2="510" y2="1075"/><line x1="510" y1="1075" x2="510" y2="40"/><line x1="90" y1="215" x2="510" y2="40"/><line x1="965" y1="280" x2="1390" y2="115"/><line x1="965" y1="1310" x2="1390" y2="1140"/><line x1="90" y1="1235" x2="510" y2="1075"/></g></g>
<g transform="translate(1530,340) scale(0.294291)"><polyline points="368.0,882.0 390.0,850.0 420.0,815.0 460.0,800.0 550.0,800.0 700.0,803.0 920.0,810.0" fill="none" stroke="#000" stroke-width="9.5"/><polyline points="368.0,880.0 385.0,840.0 400.0,820.0 430.0,805.0 470.0,798.0 600.0,797.0 800.0,800.0 920.0,803.0" fill="none" stroke="#2ca02c" stroke-width="9.5" stroke-dasharray="27.2,8.5,5.1,8.5"/><polyline points="368.0,880.0 385.0,800.0 400.0,740.0 415.0,630.0 430.0,520.0 442.0,440.0 450.0,395.0 462.0,370.0 490.0,376.0 520.0,378.0 600.0,372.0 750.0,365.0 915.0,355.0" fill="none" stroke="#0000ee" stroke-width="9.5" stroke-dasharray="27.2,8.5,5.1,8.5"/><polyline points="1200.0,873.0 1805.0,870.0" fill="none" stroke="#000" stroke-width="9.5" stroke-dasharray="27.2,17.0"/><polyline points="1200.0,872.0 1805.0,868.0" fill="none" stroke="#2ca02c" stroke-width="9.5"/><polyline points="1200.0,872.0 1280.0,840.0 1350.0,800.0 1380.0,790.0 1410.0,775.0 1440.0,730.0 1470.0,640.0 1500.0,560.0 1520.0,490.0 1550.0,440.0 1580.0,410.0 1620.0,390.0 1650.0,385.0 1665.0,360.0 1690.0,348.0 1710.0,370.0 1730.0,430.0 1750.0,570.0" fill="none" stroke="#0000ee" stroke-width="9.5" stroke-dasharray="27.2,8.5,5.1,8.5"/><polyline points="555.0,218.0 640.0,218.0" fill="none" stroke="#2ca02c" stroke-width="10.2"/><polyline points="675.0,218.0 690.0,218.0" fill="none" stroke="#2ca02c" stroke-width="10.2"/><polyline points="1360.0,218.0 1445.0,218.0" fill="none" stroke="#0000ee" stroke-width="10.2"/><polyline points="1480.0,218.0 1495.0,218.0" fill="none" stroke="#0000ee" stroke-width="10.2"/><polyline points="485.0,557.0 640.0,557.0" fill="none" stroke="#000" stroke-width="10.2"/><polyline points="1397.0,815.0 1552.0,815.0" fill="none" stroke="#000" stroke-width="10.2"/></g>
<g transform="translate(1000,680) scale(0.276778)"><polyline points="717.0,1048.0 800.0,990.0 900.0,920.0 1000.0,850.0 1100.0,780.0 1200.0,690.0 1280.0,625.0 1350.0,550.0" fill="none" stroke="#000" stroke-width="9.8"/><polyline points="717.0,1048.0 800.0,995.0 900.0,925.0 1000.0,855.0 1100.0,775.0 1200.0,700.0 1260.0,665.0 1290.0,630.0 1320.0,570.0 1335.0,560.0" fill="none" stroke="#2ca02c" stroke-width="9.8" stroke-dasharray="28.9,9.0,5.4,9.0"/><polyline points="717.0,1048.0 760.0,1020.0 800.0,1010.0 840.0,1005.0 870.0,980.0 900.0,950.0 940.0,935.0 970.0,925.0 1000.0,880.0 1040.0,820.0 1080.0,760.0 1120.0,700.0 1160.0,640.0 1200.0,570.0 1225.0,535.0 1260.0,525.0 1290.0,515.0 1320.0,490.0 1350.0,468.0" fill="none" stroke="#ee2020" stroke-width="9.8" stroke-dasharray="19.9,10.8"/><polyline points="717.0,1048.0 740.0,940.0 760.0,840.0 780.0,760.0 810.0,660.0 840.0,590.0 880.0,545.0 930.0,518.0 975.0,512.0 1050.0,520.0 1130.0,545.0 1200.0,575.0 1280.0,620.0 1350.0,668.0" fill="none" stroke="#0000ee" stroke-width="9.8" stroke-dasharray="28.9,9.0,5.4,9.0"/><polyline points="145.0,175.0 240.0,175.0" fill="none" stroke="#2ca02c" stroke-width="10.8"/><polyline points="273.0,175.0 290.0,175.0" fill="none" stroke="#2ca02c" stroke-width="10.8"/><polyline points="958.0,1005.0 1065.0,1005.0" fill="none" stroke="#000" stroke-width="10.8"/></g>
<g transform="translate(1590,680) scale(0.276014)"><polyline points="340.0,1047.0 352.0,850.0 365.0,700.0 383.0,655.0 400.0,680.0 420.0,770.0 440.0,800.0 465.0,790.0 490.0,800.0 520.0,825.0 550.0,850.0 580.0,880.0 610.0,930.0 655.0,965.0 680.0,955.0 720.0,940.0 750.0,935.0 790.0,920.0 820.0,930.0 870.0,945.0 900.0,940.0 930.0,950.0 960.0,935.0 1000.0,925.0 1025.0,928.0" fill="none" stroke="#000" stroke-width="9.8" stroke-linejoin="round"/><polyline points="340.0,1047.0 355.0,820.0 370.0,720.0 385.0,715.0 400.0,740.0 420.0,790.0 440.0,808.0 460.0,810.0 480.0,860.0 510.0,930.0 560.0,950.0 600.0,955.0 640.0,935.0 680.0,940.0 760.0,920.0 850.0,925.0 1000.0,922.0 1020.0,925.0" fill="none" stroke="#2ca02c" stroke-width="9.8" stroke-dasharray="29.0,9.1,5.4,9.1"/><polyline points="340.0,1047.0 370.0,800.0 405.0,590.0 430.0,620.0 470.0,670.0 520.0,710.0 560.0,750.0 613.0,810.0 650.0,720.0 680.0,640.0 740.0,570.0 780.0,520.0 820.0,465.0 875.0,465.0 920.0,490.0 960.0,540.0 1000.0,600.0 1028.0,650.0" fill="none" stroke="#ee2020" stroke-width="9.8" stroke-dasharray="19.9,10.9"/><polyline points="340.0,500.0 445.0,500.0" fill="none" stroke="#000" stroke-width="10.9"/><polyline points="1200.0,190.0 1250.0,190.0" fill="none" stroke="#ee2020" stroke-width="10.9"/><polyline points="1285.0,190.0 1335.0,190.0" fill="none" stroke="#ee2020" stroke-width="10.9"/><polyline points="1200.0,305.0 1300.0,305.0" fill="none" stroke="#0000ee" stroke-width="10.9"/><polyline points="1330.0,305.0 1345.0,305.0" fill="none" stroke="#0000ee" stroke-width="10.9"/><path d="M1180,153 C1130,150 1120,165 1118,190 L1116,215 C1114,235 1100,240 1055,240 C1100,240 1114,245 1116,265 L1118,292 C1120,318 1130,330 1180,327" fill="none" stroke="#000" stroke-width="4.0"/></g>
<g transform="translate(1400,810) scale(0.116198)" fill="#000"><polygon points="85,130 130,165 180,130 250,95 310,65 640,65 710,100 770,65 1110,65 1180,100 1250,140 1300,160 1335,130 1335,285 1300,255 1200,250 1110,245 960,235 850,230 780,270 760,300 650,300 620,265 560,230 450,235 300,245 200,255 130,255 85,285"/><polygon points="85,1095 130,1125 230,1130 300,1140 450,1145 560,1150 620,1110 650,1075 760,1075 790,1110 850,1155 960,1145 1110,1140 1200,1130 1300,1120 1335,1095 1335,1250 1300,1220 1250,1240 1180,1280 1110,1315 770,1315 710,1280 640,1315 310,1315 250,1285 180,1245 130,1215 85,1250"/><polygon points="640,290 600,380 545,470 510,560 500,600 440,640 385,688 440,730 500,770 515,830 560,920 610,1000 645,1085 685,1085 672,990 645,890 620,820 562,790 545,745 590,715 630,690 590,655 550,630 552,600 608,570 638,500 662,400 676,320 686,290"/><polygon points="780,290 820,380 875,470 910,560 920,600 980,640 1035,688 980,730 920,770 905,830 860,920 810,1000 775,1085 735,1085 748,990 775,890 800,820 858,790 875,745 830,715 790,690 830,655 870,630 868,600 812,570 782,500 758,400 744,320 734,290"/></g>
<g transform="translate(1915,805) scale(0.119804)" fill="#000"><polygon points="85,215 190,215 275,140 380,85 490,85 560,155 620,185 700,210 790,185 880,95 1010,85 1120,140 1210,210 1325,215 1325,335 1225,335 1150,300 1060,265 990,290 870,300 850,315 830,390 790,400 740,355 680,345 630,395 600,400 570,370 555,310 490,295 380,275 295,265 210,320 85,335"/><polygon points="85,1065 170,1070 300,1140 400,1110 560,1100 580,1020 600,1005 640,1020 700,1060 740,1040 790,1005 820,1010 840,1070 870,1100 960,1110 1090,1140 1200,1070 1325,1065 1325,1195 1200,1195 1150,1230 1050,1300 900,1320 820,1260 760,1230 700,1230 600,1240 530,1290 430,1320 360,1290 280,1240 200,1195 85,1195"/></g>
<path d="M1063.0,1286.3 L1060.6,1193.8 M1060.6,1193.8 L1127.1,1144.9 M1127.1,1144.9 L1129.5,1237.4 M1129.5,1237.4 L1063.0,1286.3 M1063.0,1286.3 L1178.4,1322.9 M1178.4,1322.9 L1244.9,1274.0 M1244.9,1274.0 L1129.5,1237.4 M1129.5,1237.4 L1063.0,1286.3 M1129.5,1237.4 L1244.9,1274.0 M1244.9,1274.0 L1242.5,1181.6 M1242.5,1181.6 L1127.1,1144.9 M1127.1,1144.9 L1129.5,1237.4" fill="none" stroke="url(#vox)" stroke-width="12.5" stroke-linecap="square"/>
<path d="M1177.2,1276.7 L1209.2,1206.1 M1209.2,1206.1 L1243.7,1227.8 M1243.7,1227.8 L1211.7,1298.5 M1211.7,1298.5 L1177.2,1276.7 M1178.4,1322.9 L1176.0,1230.5 M1176.0,1230.5 L1242.5,1181.6 M1242.5,1181.6 L1244.9,1274.0 M1244.9,1274.0 L1178.4,1322.9 M1118.3,1212.2 L1209.2,1206.1 M1209.2,1206.1 L1184.8,1163.3 M1184.8,1163.3 L1093.8,1169.4 M1093.8,1169.4 L1118.3,1212.2 M1060.6,1193.8 L1176.0,1230.5 M1176.0,1230.5 L1242.5,1181.6 M1242.5,1181.6 L1127.1,1144.9 M1127.1,1144.9 L1060.6,1193.8 M1120.7,1304.6 L1177.2,1276.7 M1177.2,1276.7 L1118.3,1212.2 M1118.3,1212.2 L1061.8,1240.0 M1061.8,1240.0 L1120.7,1304.6 M1063.0,1286.3 L1178.4,1322.9 M1178.4,1322.9 L1176.0,1230.5 M1176.0,1230.5 L1060.6,1193.8 M1060.6,1193.8 L1063.0,1286.3" fill="none" stroke="url(#vox)" stroke-width="13.5" stroke-linecap="square"/>
<g fill="url(#vox2)"><rect x="1421.2" y="1130.8" width="4.4" height="4.4"/><rect x="1438.8" y="1130.8" width="4.4" height="4.4"/><rect x="1443.2" y="1130.8" width="4.4" height="4.4"/><rect x="1447.6" y="1130.8" width="4.4" height="4.4"/><rect x="1399.2" y="1135.2" width="4.4" height="4.4"/><rect x="1438.8" y="1135.2" width="4.4" height="4.4"/><rect x="1443.2" y="1135.2" width="4.4" height="4.4"/><rect x="1447.6" y="1135.2" width="4.4" height="4.4"/><rect x="1386.0" y="1139.6" width="4.4" height="4.4"/><rect x="1399.2" y="1139.6" width="4.4" height="4.4"/><rect x="1416.8" y="1139.6" width="4.4" height="4.4"/><rect x="1438.8" y="1139.6" width="4.4" height="4.4"/><rect x="1443.2" y="1139.6" width="4.4" height="4.4"/><rect x="1456.4" y="1139.6" width="4.4" height="4.4"/><rect x="1390.4" y="1144.0" width="4.4" height="4.4"/><rect x="1416.8" y="1144.0" width="4.4" height="4.4"/><rect x="1421.2" y="1144.0" width="4.4" height="4.4"/><rect x="1443.2" y="1144.0" width="4.4" height="4.4"/><rect x="1447.6" y="1144.0" width="4.4" height="4.4"/><rect x="1456.4" y="1144.0" width="4.4" height="4.4"/><rect x="1460.8" y="1144.0" width="4.4" height="4.4"/><rect x="1465.2" y="1144.0" width="4.4" height="4.4"/><rect x="1390.4" y="1148.4" width="4.4" height="4.4"/><rect x="1408.0" y="1148.4" width="4.4" height="4.4"/><rect x="1412.4" y="1148.4" width="4.4" height="4.4"/><rect x="1421.2" y="1148.4" width="4.4" height="4.4"/><rect x="1443.2" y="1148.4" width="4.4" height="4.4"/><rect x="1465.2" y="1148.4" width="4.4" height="4.4"/><rect x="1469.6" y="1148.4" width="4.4" height="4.4"/><rect x="1482.8" y="1148.4" width="4.4" height="4.4"/><rect x="1390.4" y="1152.8" width="4.4" height="4.4"/><rect x="1434.4" y="1152.8" width="4.4" height="4.4"/><rect x="1438.8" y="1152.8" width="4.4" height="4.4"/><rect x="1443.2" y="1152.8" width="4.4" height="4.4"/><rect x="1447.6" y="1152.8" width="4.4" height="4.4"/><rect x="1469.6" y="1152.8" width="4.4" height="4.4"/><rect x="1474.0" y="1152.8" width="4.4" height="4.4"/><rect x="1478.4" y="1152.8" width="4.4" height="4.4"/><rect x="1491.6" y="1152.8" width="4.4" height="4.4"/><rect x="1386.0" y="1157.2" width="4.4" height="4.4"/><rect x="1394.8" y="1157.2" width="4.4" height="4.4"/><rect x="1421.2" y="1157.2" width="4.4" height="4.4"/><rect x="1425.6" y="1157.2" width="4.4" height="4.4"/><rect x="1438.8" y="1157.2" width="4.4" height="4.4"/><rect x="1447.6" y="1157.2" width="4.4" height="4.4"/><rect x="1452.0" y="1157.2" width="4.4" height="4.4"/><rect x="1456.4" y="1157.2" width="4.4" height="4.4"/><rect x="1496.0" y="1157.2" width="4.4" height="4.4"/><rect x="1381.6" y="1161.6" width="4.4" height="4.4"/><rect x="1386.0" y="1161.6" width="4.4" height="4.4"/><rect x="1390.4" y="1161.6" width="4.4" height="4.4"/><rect x="1403.6" y="1161.6" width="4.4" height="4.4"/><rect x="1416.8" y="1161.6" width="4.4" height="4.4"/><rect x="1421.2" y="1161.6" width="4.4" height="4.4"/><rect x="1425.6" y="1161.6" width="4.4" height="4.4"/><rect x="1452.0" y="1161.6" width="4.4" height="4.4"/><rect x="1456.4" y="1161.6" width="4.4" height="4.4"/><rect x="1359.6" y="1166.0" width="4.4" height="4.4"/><rect x="1364.0" y="1166.0" width="4.4" height="4.4"/><rect x="1386.0" y="1166.0" width="4.4" height="4.4"/><rect x="1394.8" y="1166.0" width="4.4" height="4.4"/><rect x="1408.0" y="1166.0" width="4.4" height="4.4"/><rect x="1421.2" y="1166.0" width="4.4" height="4.4"/><rect x="1425.6" y="1166.0" width="4.4" height="4.4"/><rect x="1430.0" y="1166.0" width="4.4" height="4.4"/><rect x="1438.8" y="1166.0" width="4.4" height="4.4"/><rect x="1447.6" y="1166.0" width="4.4" height="4.4"/><rect x="1452.0" y="1166.0" width="4.4" height="4.4"/><rect x="1456.4" y="1166.0" width="4.4" height="4.4"/><rect x="1469.6" y="1166.0" width="4.4" height="4.4"/><rect x="1500.4" y="1166.0" width="4.4" height="4.4"/><rect x="1364.0" y="1170.4" width="4.4" height="4.4"/><rect x="1381.6" y="1170.4" width="4.4" height="4.4"/><rect x="1386.0" y="1170.4" width="4.4" height="4.4"/><rect x="1390.4" y="1170.4" width="4.4" height="4.4"/><rect x="1394.8" y="1170.4" width="4.4" height="4.4"/><rect x="1399.2" y="1170.4" width="4.4" height="4.4"/><rect x="1408.0" y="1170.4" width="4.4" height="4.4"/><rect x="1412.4" y="1170.4" width="4.4" height="4.4"/><rect x="1416.8" y="1170.4" width="4.4" height="4.4"/><rect x="1425.6" y="1170.4" width="4.4" height="4.4"/><rect x="1430.0" y="1170.4" width="4.4" height="4.4"/><rect x="1434.4" y="1170.4" width="4.4" height="4.4"/><rect x="1447.6" y="1170.4" width="4.4" height="4.4"/><rect x="1452.0" y="1170.4" width="4.4" height="4.4"/><rect x="1460.8" y="1170.4" width="4.4" height="4.4"/><rect x="1465.2" y="1170.4" width="4.4" height="4.4"/><rect x="1469.6" y="1170.4" width="4.4" height="4.4"/><rect x="1474.0" y="1170.4" width="4.4" height="4.4"/><rect x="1487.2" y="1170.4" width="4.4" height="4.4"/><rect x="1500.4" y="1170.4" width="4.4" height="4.4"/><rect x="1504.8" y="1170.4" width="4.4" height="4.4"/><rect x="1377.2" y="1174.8" width="4.4" height="4.4"/><rect x="1381.6" y="1174.8" width="4.4" height="4.4"/><rect x="1386.0" y="1174.8" width="4.4" height="4.4"/><rect x="1390.4" y="1174.8" width="4.4" height="4.4"/><rect x="1403.6" y="1174.8" width="4.4" height="4.4"/><rect x="1408.0" y="1174.8" width="4.4" height="4.4"/><rect x="1421.2" y="1174.8" width="4.4" height="4.4"/><rect x="1425.6" y="1174.8" width="4.4" height="4.4"/><rect x="1434.4" y="1174.8" width="4.4" height="4.4"/><rect x="1460.8" y="1174.8" width="4.4" height="4.4"/><rect x="1469.6" y="1174.8" width="4.4" height="4.4"/><rect x="1474.0" y="1174.8" width="4.4" height="4.4"/><rect x="1478.4" y="1174.8" width="4.4" height="4.4"/><rect x="1482.8" y="1174.8" width="4.4" height="4.4"/><rect x="1487.2" y="1174.8" width="4.4" height="4.4"/><rect x="1491.6" y="1174.8" width="4.4" height="4.4"/><rect x="1496.0" y="1174.8" width="4.4" height="4.4"/><rect x="1504.8" y="1174.8" width="4.4" height="4.4"/><rect x="1350.8" y="1179.2" width="4.4" height="4.4"/><rect x="1355.2" y="1179.2" width="4.4" height="4.4"/><rect x="1381.6" y="1179.2" width="4.4" height="4.4"/><rect x="1386.0" y="1179.2" width="4.4" height="4.4"/><rect x="1403.6" y="1179.2" width="4.4" height="4.4"/><rect x="1408.0" y="1179.2" width="4.4" height="4.4"/><rect x="1421.2" y="1179.2" width="4.4" height="4.4"/><rect x="1425.6" y="1179.2" width="4.4" height="4.4"/><rect x="1434.4" y="1179.2" width="4.4" height="4.4"/><rect x="1438.8" y="1179.2" width="4.4" height="4.4"/><rect x="1443.2" y="1179.2" width="4.4" height="4.4"/><rect x="1474.0" y="1179.2" width="4.4" height="4.4"/><rect x="1478.4" y="1179.2" width="4.4" height="4.4"/><rect x="1482.8" y="1179.2" width="4.4" height="4.4"/><rect x="1487.2" y="1179.2" width="4.4" height="4.4"/><rect x="1504.8" y="1179.2" width="4.4" height="4.4"/><rect x="1355.2" y="1183.6" width="4.4" height="4.4"/><rect x="1381.6" y="1183.6" width="4.4" height="4.4"/><rect x="1394.8" y="1183.6" width="4.4" height="4.4"/><rect x="1399.2" y="1183.6" width="4.4" height="4.4"/><rect x="1403.6" y="1183.6" width="4.4" height="4.4"/><rect x="1408.0" y="1183.6" width="4.4" height="4.4"/><rect x="1421.2" y="1183.6" width="4.4" height="4.4"/><rect x="1434.4" y="1183.6" width="4.4" height="4.4"/><rect x="1438.8" y="1183.6" width="4.4" height="4.4"/><rect x="1443.2" y="1183.6" width="4.4" height="4.4"/><rect x="1447.6" y="1183.6" width="4.4" height="4.4"/><rect x="1452.0" y="1183.6" width="4.4" height="4.4"/><rect x="1456.4" y="1183.6" width="4.4" height="4.4"/><rect x="1460.8" y="1183.6" width="4.4" height="4.4"/><rect x="1487.2" y="1183.6" width="4.4" height="4.4"/><rect x="1509.2" y="1183.6" width="4.4" height="4.4"/><rect x="1337.6" y="1188.0" width="4.4" height="4.4"/><rect x="1342.0" y="1188.0" width="4.4" height="4.4"/><rect x="1346.4" y="1188.0" width="4.4" height="4.4"/><rect x="1350.8" y="1188.0" width="4.4" height="4.4"/><rect x="1390.4" y="1188.0" width="4.4" height="4.4"/><rect x="1394.8" y="1188.0" width="4.4" height="4.4"/><rect x="1399.2" y="1188.0" width="4.4" height="4.4"/><rect x="1408.0" y="1188.0" width="4.4" height="4.4"/><rect x="1412.4" y="1188.0" width="4.4" height="4.4"/><rect x="1421.2" y="1188.0" width="4.4" height="4.4"/><rect x="1425.6" y="1188.0" width="4.4" height="4.4"/><rect x="1434.4" y="1188.0" width="4.4" height="4.4"/><rect x="1438.8" y="1188.0" width="4.4" height="4.4"/><rect x="1443.2" y="1188.0" width="4.4" height="4.4"/><rect x="1447.6" y="1188.0" width="4.4" height="4.4"/><rect x="1452.0" y="1188.0" width="4.4" height="4.4"/><rect x="1456.4" y="1188.0" width="4.4" height="4.4"/><rect x="1460.8" y="1188.0" width="4.4" height="4.4"/><rect x="1465.2" y="1188.0" width="4.4" height="4.4"/><rect x="1469.6" y="1188.0" width="4.4" height="4.4"/><rect x="1478.4" y="1188.0" width="4.4" height="4.4"/><rect x="1491.6" y="1188.0" width="4.4" height="4.4"/><rect x="1337.6" y="1192.4" width="4.4" height="4.4"/><rect x="1359.6" y="1192.4" width="4.4" height="4.4"/><rect x="1364.0" y="1192.4" width="4.4" height="4.4"/><rect x="1372.8" y="1192.4" width="4.4" height="4.4"/><rect x="1386.0" y="1192.4" width="4.4" height="4.4"/><rect x="1390.4" y="1192.4" width="4.4" height="4.4"/><rect x="1394.8" y="1192.4" width="4.4" height="4.4"/><rect x="1399.2" y="1192.4" width="4.4" height="4.4"/><rect x="1403.6" y="1192.4" width="4.4" height="4.4"/><rect x="1412.4" y="1192.4" width="4.4" height="4.4"/><rect x="1416.8" y="1192.4" width="4.4" height="4.4"/><rect x="1421.2" y="1192.4" width="4.4" height="4.4"/><rect x="1425.6" y="1192.4" width="4.4" height="4.4"/><rect x="1430.0" y="1192.4" width="4.4" height="4.4"/><rect x="1438.8" y="1192.4" width="4.4" height="4.4"/><rect x="1443.2" y="1192.4" width="4.4" height="4.4"/><rect x="1447.6" y="1192.4" width="4.4" height="4.4"/><rect x="1452.0" y="1192.4" width="4.4" height="4.4"/><rect x="1456.4" y="1192.4" width="4.4" height="4.4"/><rect x="1460.8" y="1192.4" width="4.4" height="4.4"/><rect x="1469.6" y="1192.4" width="4.4" height="4.4"/><rect x="1474.0" y="1192.4" width="4.4" height="4.4"/><rect x="1478.4" y="1192.4" width="4.4" height="4.4"/><rect x="1491.6" y="1192.4" width="4.4" height="4.4"/><rect x="1496.0" y="1192.4" width="4.4" height="4.4"/><rect x="1500.4" y="1192.4" width="4.4" height="4.4"/><rect x="1504.8" y="1192.4" width="4.4" height="4.4"/><rect x="1355.2" y="1196.8" width="4.4" height="4.4"/><rect x="1359.6" y="1196.8" width="4.4" height="4.4"/><rect x="1364.0" y="1196.8" width="4.4" height="4.4"/><rect x="1377.2" y="1196.8" width="4.4" height="4.4"/><rect x="1390.4" y="1196.8" width="4.4" height="4.4"/><rect x="1394.8" y="1196.8" width="4.4" height="4.4"/><rect x="1399.2" y="1196.8" width="4.4" height="4.4"/><rect x="1403.6" y="1196.8" width="4.4" height="4.4"/><rect x="1408.0" y="1196.8" width="4.4" height="4.4"/><rect x="1412.4" y="1196.8" width="4.4" height="4.4"/><rect x="1416.8" y="1196.8" width="4.4" height="4.4"/><rect x="1421.2" y="1196.8" width="4.4" height="4.4"/><rect x="1425.6" y="1196.8" width="4.4" height="4.4"/><rect x="1430.0" y="1196.8" width="4.4" height="4.4"/><rect x="1434.4" y="1196.8" width="4.4" height="4.4"/><rect x="1443.2" y="1196.8" width="4.4" height="4.4"/><rect x="1447.6" y="1196.8" width="4.4" height="4.4"/><rect x="1452.0" y="1196.8" width="4.4" height="4.4"/><rect x="1456.4" y="1196.8" width="4.4" height="4.4"/><rect x="1460.8" y="1196.8" width="4.4" height="4.4"/><rect x="1465.2" y="1196.8" width="4.4" height="4.4"/><rect x="1469.6" y="1196.8" width="4.4" height="4.4"/><rect x="1474.0" y="1196.8" width="4.4" height="4.4"/><rect x="1478.4" y="1196.8" width="4.4" height="4.4"/><rect x="1491.6" y="1196.8" width="4.4" height="4.4"/><rect x="1496.0" y="1196.8" width="4.4" height="4.4"/><rect x="1333.2" y="1201.2" width="4.4" height="4.4"/><rect x="1359.6" y="1201.2" width="4.4" height="4.4"/><rect x="1364.0" y="1201.2" width="4.4" height="4.4"/><rect x="1368.4" y="1201.2" width="4.4" height="4.4"/><rect x="1372.8" y="1201.2" width="4.4" height="4.4"/><rect x="1377.2" y="1201.2" width="4.4" height="4.4"/><rect x="1381.6" y="1201.2" width="4.4" height="4.4"/><rect x="1386.0" y="1201.2" width="4.4" height="4.4"/><rect x="1390.4" y="1201.2" width="4.4" height="4.4"/><rect x="1394.8" y="1201.2" width="4.4" height="4.4"/><rect x="1399.2" y="1201.2" width="4.4" height="4.4"/><rect x="1403.6" y="1201.2" width="4.4" height="4.4"/><rect x="1408.0" y="1201.2" width="4.4" height="4.4"/><rect x="1412.4" y="1201.2" width="4.4" height="4.4"/><rect x="1416.8" y="1201.2" width="4.4" height="4.4"/><rect x="1421.2" y="1201.2" width="4.4" height="4.4"/><rect x="1425.6" y="1201.2" width="4.4" height="4.4"/><rect x="1430.0" y="1201.2" width="4.4" height="4.4"/><rect x="1434.4" y="1201.2" width="4.4" height="4.4"/><rect x="1438.8" y="1201.2" width="4.4" height="4.4"/><rect x="1452.0" y="1201.2" width="4.4" height="4.4"/><rect x="1456.4" y="1201.2" width="4.4" height="4.4"/><rect x="1460.8" y="1201.2" width="4.4" height="4.4"/><rect x="1465.2" y="1201.2" width="4.4" height="4.4"/><rect x="1469.6" y="1201.2" width="4.4" height="4.4"/><rect x="1474.0" y="1201.2" width="4.4" height="4.4"/><rect x="1478.4" y="1201.2" width="4.4" height="4.4"/><rect x="1482.8" y="1201.2" width="4.4" height="4.4"/><rect x="1487.2" y="1201.2" width="4.4" height="4.4"/><rect x="1491.6" y="1201.2" width="4.4" height="4.4"/><rect x="1496.0" y="1201.2" width="4.4" height="4.4"/><rect x="1504.8" y="1201.2" width="4.4" height="4.4"/><rect x="1509.2" y="1201.2" width="4.4" height="4.4"/><rect x="1522.4" y="1201.2" width="4.4" height="4.4"/><rect x="1333.2" y="1205.6" width="4.4" height="4.4"/><rect x="1346.4" y="1205.6" width="4.4" height="4.4"/><rect x="1350.8" y="1205.6" width="4.4" height="4.4"/><rect x="1355.2" y="1205.6" width="4.4" height="4.4"/><rect x="1364.0" y="1205.6" width="4.4" height="4.4"/><rect x="1368.4" y="1205.6" width="4.4" height="4.4"/><rect x="1386.0" y="1205.6" width="4.4" height="4.4"/><rect x="1390.4" y="1205.6" width="4.4" height="4.4"/><rect x="1394.8" y="1205.6" width="4.4" height="4.4"/><rect x="1399.2" y="1205.6" width="4.4" height="4.4"/><rect x="1403.6" y="1205.6" width="4.4" height="4.4"/><rect x="1408.0" y="1205.6" width="4.4" height="4.4"/><rect x="1412.4" y="1205.6" width="4.4" height="4.4"/><rect x="1425.6" y="1205.6" width="4.4" height="4.4"/><rect x="1430.0" y="1205.6" width="4.4" height="4.4"/><rect x="1434.4" y="1205.6" width="4.4" height="4.4"/><rect x="1438.8" y="1205.6" width="4.4" height="4.4"/><rect x="1452.0" y="1205.6" width="4.4" height="4.4"/><rect x="1456.4" y="1205.6" width="4.4" height="4.4"/><rect x="1460.8" y="1205.6" width="4.4" height="4.4"/><rect x="1465.2" y="1205.6" width="4.4" height="4.4"/><rect x="1469.6" y="1205.6" width="4.4" height="4.4"/><rect x="1478.4" y="1205.6" width="4.4" height="4.4"/><rect x="1482.8" y="1205.6" width="4.4" height="4.4"/><rect x="1491.6" y="1205.6" width="4.4" height="4.4"/><rect x="1496.0" y="1205.6" width="4.4" height="4.4"/><rect x="1500.4" y="1205.6" width="4.4" height="4.4"/><rect x="1518.0" y="1205.6" width="4.4" height="4.4"/><rect x="1522.4" y="1205.6" width="4.4" height="4.4"/><rect x="1346.4" y="1210.0" width="4.4" height="4.4"/><rect x="1350.8" y="1210.0" width="4.4" height="4.4"/><rect x="1355.2" y="1210.0" width="4.4" height="4.4"/><rect x="1359.6" y="1210.0" width="4.4" height="4.4"/><rect x="1364.0" y="1210.0" width="4.4" height="4.4"/><rect x="1372.8" y="1210.0" width="4.4" height="4.4"/><rect x="1377.2" y="1210.0" width="4.4" height="4.4"/><rect x="1381.6" y="1210.0" width="4.4" height="4.4"/><rect x="1386.0" y="1210.0" width="4.4" height="4.4"/><rect x="1390.4" y="1210.0" width="4.4" height="4.4"/><rect x="1399.2" y="1210.0" width="4.4" height="4.4"/><rect x="1403.6" y="1210.0" width="4.4" height="4.4"/><rect x="1408.0" y="1210.0" width="4.4" height="4.4"/><rect x="1412.4" y="1210.0" width="4.4" height="4.4"/><rect x="1421.2" y="1210.0" width="4.4" height="4.4"/><rect x="1452.0" y="1210.0" width="4.4" height="4.4"/><rect x="1456.4" y="1210.0" width="4.4" height="4.4"/><rect x="1460.8" y="1210.0" width="4.4" height="4.4"/><rect x="1465.2" y="1210.0" width="4.4" height="4.4"/><rect x="1482.8" y="1210.0" width="4.4" height="4.4"/><rect x="1487.2" y="1210.0" width="4.4" height="4.4"/><rect x="1491.6" y="1210.0" width="4.4" height="4.4"/><rect x="1346.4" y="1214.4" width="4.4" height="4.4"/><rect x="1350.8" y="1214.4" width="4.4" height="4.4"/><rect x="1355.2" y="1214.4" width="4.4" height="4.4"/><rect x="1359.6" y="1214.4" width="4.4" height="4.4"/><rect x="1364.0" y="1214.4" width="4.4" height="4.4"/><rect x="1372.8" y="1214.4" width="4.4" height="4.4"/><rect x="1377.2" y="1214.4" width="4.4" height="4.4"/><rect x="1381.6" y="1214.4" width="4.4" height="4.4"/><rect x="1386.0" y="1214.4" width="4.4" height="4.4"/><rect x="1399.2" y="1214.4" width="4.4" height="4.4"/><rect x="1403.6" y="1214.4" width="4.4" height="4.4"/><rect x="1408.0" y="1214.4" width="4.4" height="4.4"/><rect x="1412.4" y="1214.4" width="4.4" height="4.4"/><rect x="1416.8" y="1214.4" width="4.4" height="4.4"/><rect x="1421.2" y="1214.4" width="4.4" height="4.4"/><rect x="1425.6" y="1214.4" width="4.4" height="4.4"/><rect x="1430.0" y="1214.4" width="4.4" height="4.4"/><rect x="1438.8" y="1214.4" width="4.4" height="4.4"/><rect x="1443.2" y="1214.4" width="4.4" height="4.4"/><rect x="1447.6" y="1214.4" width="4.4" height="4.4"/><rect x="1452.0" y="1214.4" width="4.4" height="4.4"/><rect x="1456.4" y="1214.4" width="4.4" height="4.4"/><rect x="1460.8" y="1214.4" width="4.4" height="4.4"/><rect x="1465.2" y="1214.4" width="4.4" height="4.4"/><rect x="1482.8" y="1214.4" width="4.4" height="4.4"/><rect x="1487.2" y="1214.4" width="4.4" height="4.4"/><rect x="1496.0" y="1214.4" width="4.4" height="4.4"/><rect x="1346.4" y="1218.8" width="4.4" height="4.4"/><rect x="1359.6" y="1218.8" width="4.4" height="4.4"/><rect x="1364.0" y="1218.8" width="4.4" height="4.4"/><rect x="1368.4" y="1218.8" width="4.4" height="4.4"/><rect x="1372.8" y="1218.8" width="4.4" height="4.4"/><rect x="1377.2" y="1218.8" width="4.4" height="4.4"/><rect x="1381.6" y="1218.8" width="4.4" height="4.4"/><rect x="1386.0" y="1218.8" width="4.4" height="4.4"/><rect x="1390.4" y="1218.8" width="4.4" height="4.4"/><rect x="1394.8" y="1218.8" width="4.4" height="4.4"/><rect x="1399.2" y="1218.8" width="4.4" height="4.4"/><rect x="1403.6" y="1218.8" width="4.4" height="4.4"/><rect x="1408.0" y="1218.8" width="4.4" height="4.4"/><rect x="1412.4" y="1218.8" width="4.4" height="4.4"/><rect x="1416.8" y="1218.8" width="4.4" height="4.4"/><rect x="1421.2" y="1218.8" width="4.4" height="4.4"/><rect x="1425.6" y="1218.8" width="4.4" height="4.4"/><rect x="1430.0" y="1218.8" width="4.4" height="4.4"/><rect x="1434.4" y="1218.8" width="4.4" height="4.4"/><rect x="1438.8" y="1218.8" width="4.4" height="4.4"/><rect x="1443.2" y="1218.8" width="4.4" height="4.4"/><rect x="1447.6" y="1218.8" width="4.4" height="4.4"/><rect x="1452.0" y="1218.8" width="4.4" height="4.4"/><rect x="1456.4" y="1218.8" width="4.4" height="4.4"/><rect x="1460.8" y="1218.8" width="4.4" height="4.4"/><rect x="1478.4" y="1218.8" width="4.4" height="4.4"/><rect x="1482.8" y="1218.8" width="4.4" height="4.4"/><rect x="1346.4" y="1223.2" width="4.4" height="4.4"/><rect x="1350.8" y="1223.2" width="4.4" height="4.4"/><rect x="1359.6" y="1223.2" width="4.4" height="4.4"/><rect x="1364.0" y="1223.2" width="4.4" height="4.4"/><rect x="1368.4" y="1223.2" width="4.4" height="4.4"/><rect x="1372.8" y="1223.2" width="4.4" height="4.4"/><rect x="1381.6" y="1223.2" width="4.4" height="4.4"/><rect x="1386.0" y="1223.2" width="4.4" height="4.4"/><rect x="1390.4" y="1223.2" width="4.4" height="4.4"/><rect x="1394.8" y="1223.2" width="4.4" height="4.4"/><rect x="1399.2" y="1223.2" width="4.4" height="4.4"/><rect x="1403.6" y="1223.2" width="4.4" height="4.4"/><rect x="1408.0" y="1223.2" width="4.4" height="4.4"/><rect x="1412.4" y="1223.2" width="4.4" height="4.4"/><rect x="1416.8" y="1223.2" width="4.4" height="4.4"/><rect x="1421.2" y="1223.2" width="4.4" height="4.4"/><rect x="1425.6" y="1223.2" width="4.4" height="4.4"/><rect x="1430.0" y="1223.2" width="4.4" height="4.4"/><rect x="1434.4" y="1223.2" width="4.4" height="4.4"/><rect x="1438.8" y="1223.2" width="4.4" height="4.4"/><rect x="1443.2" y="1223.2" width="4.4" height="4.4"/><rect x="1447.6" y="1223.2" width="4.4" height="4.4"/><rect x="1452.0" y="1223.2" width="4.4" height="4.4"/><rect x="1456.4" y="1223.2" width="4.4" height="4.4"/><rect x="1460.8" y="1223.2" width="4.4" height="4.4"/><rect x="1474.0" y="1223.2" width="4.4" height="4.4"/><rect x="1478.4" y="1223.2" width="4.4" height="4.4"/><rect x="1504.8" y="1223.2" width="4.4" height="4.4"/><rect x="1509.2" y="1223.2" width="4.4" height="4.4"/><rect x="1513.6" y="1223.2" width="4.4" height="4.4"/><rect x="1350.8" y="1227.6" width="4.4" height="4.4"/><rect x="1355.2" y="1227.6" width="4.4" height="4.4"/><rect x="1359.6" y="1227.6" width="4.4" height="4.4"/><rect x="1364.0" y="1227.6" width="4.4" height="4.4"/><rect x="1368.4" y="1227.6" width="4.4" height="4.4"/><rect x="1372.8" y="1227.6" width="4.4" height="4.4"/><rect x="1386.0" y="1227.6" width="4.4" height="4.4"/><rect x="1390.4" y="1227.6" width="4.4" height="4.4"/><rect x="1394.8" y="1227.6" width="4.4" height="4.4"/><rect x="1399.2" y="1227.6" width="4.4" height="4.4"/><rect x="1403.6" y="1227.6" width="4.4" height="4.4"/><rect x="1408.0" y="1227.6" width="4.4" height="4.4"/><rect x="1412.4" y="1227.6" width="4.4" height="4.4"/><rect x="1416.8" y="1227.6" width="4.4" height="4.4"/><rect x="1421.2" y="1227.6" width="4.4" height="4.4"/><rect x="1425.6" y="1227.6" width="4.4" height="4.4"/><rect x="1430.0" y="1227.6" width="4.4" height="4.4"/><rect x="1438.8" y="1227.6" width="4.4" height="4.4"/><rect x="1443.2" y="1227.6" width="4.4" height="4.4"/><rect x="1447.6" y="1227.6" width="4.4" height="4.4"/><rect x="1469.6" y="1227.6" width="4.4" height="4.4"/><rect x="1474.0" y="1227.6" width="4.4" height="4.4"/><rect x="1478.4" y="1227.6" width="4.4" height="4.4"/><rect x="1482.8" y="1227.6" width="4.4" height="4.4"/><rect x="1496.0" y="1227.6" width="4.4" height="4.4"/><rect x="1500.4" y="1227.6" width="4.4" height="4.4"/><rect x="1504.8" y="1227.6" width="4.4" height="4.4"/><rect x="1509.2" y="1227.6" width="4.4" height="4.4"/><rect x="1513.6" y="1227.6" width="4.4" height="4.4"/><rect x="1342.0" y="1232.0" width="4.4" height="4.4"/><rect x="1346.4" y="1232.0" width="4.4" height="4.4"/><rect x="1355.2" y="1232.0" width="4.4" height="4.4"/><rect x="1359.6" y="1232.0" width="4.4" height="4.4"/><rect x="1364.0" y="1232.0" width="4.4" height="4.4"/><rect x="1368.4" y="1232.0" width="4.4" height="4.4"/><rect x="1372.8" y="1232.0" width="4.4" height="4.4"/><rect x="1377.2" y="1232.0" width="4.4" height="4.4"/><rect x="1381.6" y="1232.0" width="4.4" height="4.4"/><rect x="1386.0" y="1232.0" width="4.4" height="4.4"/><rect x="1390.4" y="1232.0" width="4.4" height="4.4"/><rect x="1394.8" y="1232.0" width="4.4" height="4.4"/><rect x="1399.2" y="1232.0" width="4.4" height="4.4"/><rect x="1403.6" y="1232.0" width="4.4" height="4.4"/><rect x="1408.0" y="1232.0" width="4.4" height="4.4"/><rect x="1412.4" y="1232.0" width="4.4" height="4.4"/><rect x="1416.8" y="1232.0" width="4.4" height="4.4"/><rect x="1421.2" y="1232.0" width="4.4" height="4.4"/><rect x="1425.6" y="1232.0" width="4.4" height="4.4"/><rect x="1430.0" y="1232.0" width="4.4" height="4.4"/><rect x="1434.4" y="1232.0" width="4.4" height="4.4"/><rect x="1438.8" y="1232.0" width="4.4" height="4.4"/><rect x="1443.2" y="1232.0" width="4.4" height="4.4"/><rect x="1447.6" y="1232.0" width="4.4" height="4.4"/><rect x="1452.0" y="1232.0" width="4.4" height="4.4"/><rect x="1456.4" y="1232.0" width="4.4" height="4.4"/><rect x="1460.8" y="1232.0" width="4.4" height="4.4"/><rect x="1478.4" y="1232.0" width="4.4" height="4.4"/><rect x="1482.8" y="1232.0" width="4.4" height="4.4"/><rect x="1487.2" y="1232.0" width="4.4" height="4.4"/><rect x="1496.0" y="1232.0" width="4.4" height="4.4"/><rect x="1500.4" y="1232.0" width="4.4" height="4.4"/><rect x="1504.8" y="1232.0" width="4.4" height="4.4"/><rect x="1509.2" y="1232.0" width="4.4" height="4.4"/><rect x="1513.6" y="1232.0" width="4.4" height="4.4"/><rect x="1359.6" y="1236.4" width="4.4" height="4.4"/><rect x="1364.0" y="1236.4" width="4.4" height="4.4"/><rect x="1368.4" y="1236.4" width="4.4" height="4.4"/><rect x="1381.6" y="1236.4" width="4.4" height="4.4"/><rect x="1386.0" y="1236.4" width="4.4" height="4.4"/><rect x="1390.4" y="1236.4" width="4.4" height="4.4"/><rect x="1394.8" y="1236.4" width="4.4" height="4.4"/><rect x="1399.2" y="1236.4" width="4.4" height="4.4"/><rect x="1403.6" y="1236.4" width="4.4" height="4.4"/><rect x="1408.0" y="1236.4" width="4.4" height="4.4"/><rect x="1412.4" y="1236.4" width="4.4" height="4.4"/><rect x="1416.8" y="1236.4" width="4.4" height="4.4"/><rect x="1421.2" y="1236.4" width="4.4" height="4.4"/><rect x="1425.6" y="1236.4" width="4.4" height="4.4"/><rect x="1430.0" y="1236.4" width="4.4" height="4.4"/><rect x="1434.4" y="1236.4" width="4.4" height="4.4"/><rect x="1438.8" y="1236.4" width="4.4" height="4.4"/><rect x="1443.2" y="1236.4" width="4.4" height="4.4"/><rect x="1447.6" y="1236.4" width="4.4" height="4.4"/><rect x="1452.0" y="1236.4" width="4.4" height="4.4"/><rect x="1456.4" y="1236.4" width="4.4" height="4.4"/><rect x="1460.8" y="1236.4" width="4.4" height="4.4"/><rect x="1465.2" y="1236.4" width="4.4" height="4.4"/><rect x="1478.4" y="1236.4" width="4.4" height="4.4"/><rect x="1482.8" y="1236.4" width="4.4" height="4.4"/><rect x="1496.0" y="1236.4" width="4.4" height="4.4"/><rect x="1500.4" y="1236.4" width="4.4" height="4.4"/><rect x="1504.8" y="1236.4" width="4.4" height="4.4"/><rect x="1364.0" y="1240.8" width="4.4" height="4.4"/><rect x="1368.4" y="1240.8" width="4.4" height="4.4"/><rect x="1381.6" y="1240.8" width="4.4" height="4.4"/><rect x="1386.0" y="1240.8" width="4.4" height="4.4"/><rect x="1390.4" y="1240.8" width="4.4" height="4.4"/><rect x="1399.2" y="1240.8" width="4.4" height="4.4"/><rect x="1403.6" y="1240.8" width="4.4" height="4.4"/><rect x="1408.0" y="1240.8" width="4.4" height="4.4"/><rect x="1412.4" y="1240.8" width="4.4" height="4.4"/><rect x="1416.8" y="1240.8" width="4.4" height="4.4"/><rect x="1421.2" y="1240.8" width="4.4" height="4.4"/><rect x="1425.6" y="1240.8" width="4.4" height="4.4"/><rect x="1430.0" y="1240.8" width="4.4" height="4.4"/><rect x="1434.4" y="1240.8" width="4.4" height="4.4"/><rect x="1438.8" y="1240.8" width="4.4" height="4.4"/><rect x="1443.2" y="1240.8" width="4.4" height="4.4"/><rect x="1447.6" y="1240.8" width="4.4" height="4.4"/><rect x="1452.0" y="1240.8" width="4.4" height="4.4"/><rect x="1465.2" y="1240.8" width="4.4" height="4.4"/><rect x="1469.6" y="1240.8" width="4.4" height="4.4"/><rect x="1474.0" y="1240.8" width="4.4" height="4.4"/><rect x="1478.4" y="1240.8" width="4.4" height="4.4"/><rect x="1500.4" y="1240.8" width="4.4" height="4.4"/><rect x="1504.8" y="1240.8" width="4.4" height="4.4"/><rect x="1350.8" y="1245.2" width="4.4" height="4.4"/><rect x="1364.0" y="1245.2" width="4.4" height="4.4"/><rect x="1372.8" y="1245.2" width="4.4" height="4.4"/><rect x="1377.2" y="1245.2" width="4.4" height="4.4"/><rect x="1381.6" y="1245.2" width="4.4" height="4.4"/><rect x="1386.0" y="1245.2" width="4.4" height="4.4"/><rect x="1390.4" y="1245.2" width="4.4" height="4.4"/><rect x="1399.2" y="1245.2" width="4.4" height="4.4"/><rect x="1403.6" y="1245.2" width="4.4" height="4.4"/><rect x="1408.0" y="1245.2" width="4.4" height="4.4"/><rect x="1412.4" y="1245.2" width="4.4" height="4.4"/><rect x="1416.8" y="1245.2" width="4.4" height="4.4"/><rect x="1421.2" y="1245.2" width="4.4" height="4.4"/><rect x="1425.6" y="1245.2" width="4.4" height="4.4"/><rect x="1430.0" y="1245.2" width="4.4" height="4.4"/><rect x="1434.4" y="1245.2" width="4.4" height="4.4"/><rect x="1438.8" y="1245.2" width="4.4" height="4.4"/><rect x="1443.2" y="1245.2" width="4.4" height="4.4"/><rect x="1447.6" y="1245.2" width="4.4" height="4.4"/><rect x="1452.0" y="1245.2" width="4.4" height="4.4"/><rect x="1456.4" y="1245.2" width="4.4" height="4.4"/><rect x="1465.2" y="1245.2" width="4.4" height="4.4"/><rect x="1469.6" y="1245.2" width="4.4" height="4.4"/><rect x="1474.0" y="1245.2" width="4.4" height="4.4"/><rect x="1478.4" y="1245.2" width="4.4" height="4.4"/><rect x="1500.4" y="1245.2" width="4.4" height="4.4"/><rect x="1504.8" y="1245.2" width="4.4" height="4.4"/><rect x="1513.6" y="1245.2" width="4.4" height="4.4"/><rect x="1518.0" y="1245.2" width="4.4" height="4.4"/><rect x="1333.2" y="1249.6" width="4.4" height="4.4"/><rect x="1346.4" y="1249.6" width="4.4" height="4.4"/><rect x="1364.0" y="1249.6" width="4.4" height="4.4"/><rect x="1377.2" y="1249.6" width="4.4" height="4.4"/><rect x="1381.6" y="1249.6" width="4.4" height="4.4"/><rect x="1386.0" y="1249.6" width="4.4" height="4.4"/><rect x="1399.2" y="1249.6" width="4.4" height="4.4"/><rect x="1403.6" y="1249.6" width="4.4" height="4.4"/><rect x="1408.0" y="1249.6" width="4.4" height="4.4"/><rect x="1412.4" y="1249.6" width="4.4" height="4.4"/><rect x="1416.8" y="1249.6" width="4.4" height="4.4"/><rect x="1421.2" y="1249.6" width="4.4" height="4.4"/><rect x="1425.6" y="1249.6" width="4.4" height="4.4"/><rect x="1430.0" y="1249.6" width="4.4" height="4.4"/><rect x="1434.4" y="1249.6" width="4.4" height="4.4"/><rect x="1438.8" y="1249.6" width="4.4" height="4.4"/><rect x="1443.2" y="1249.6" width="4.4" height="4.4"/><rect x="1447.6" y="1249.6" width="4.4" height="4.4"/><rect x="1452.0" y="1249.6" width="4.4" height="4.4"/><rect x="1456.4" y="1249.6" width="4.4" height="4.4"/><rect x="1460.8" y="1249.6" width="4.4" height="4.4"/><rect x="1465.2" y="1249.6" width="4.4" height="4.4"/><rect x="1469.6" y="1249.6" width="4.4" height="4.4"/><rect x="1474.0" y="1249.6" width="4.4" height="4.4"/><rect x="1478.4" y="1249.6" width="4.4" height="4.4"/><rect x="1482.8" y="1249.6" width="4.4" height="4.4"/><rect x="1487.2" y="1249.6" width="4.4" height="4.4"/><rect x="1491.6" y="1249.6" width="4.4" height="4.4"/><rect x="1496.0" y="1249.6" width="4.4" height="4.4"/><rect x="1500.4" y="1249.6" width="4.4" height="4.4"/><rect x="1504.8" y="1249.6" width="4.4" height="4.4"/><rect x="1359.6" y="1254.0" width="4.4" height="4.4"/><rect x="1364.0" y="1254.0" width="4.4" height="4.4"/><rect x="1368.4" y="1254.0" width="4.4" height="4.4"/><rect x="1372.8" y="1254.0" width="4.4" height="4.4"/><rect x="1377.2" y="1254.0" width="4.4" height="4.4"/><rect x="1381.6" y="1254.0" width="4.4" height="4.4"/><rect x="1390.4" y="1254.0" width="4.4" height="4.4"/><rect x="1394.8" y="1254.0" width="4.4" height="4.4"/><rect x="1403.6" y="1254.0" width="4.4" height="4.4"/><rect x="1408.0" y="1254.0" width="4.4" height="4.4"/><rect x="1412.4" y="1254.0" width="4.4" height="4.4"/><rect x="1416.8" y="1254.0" width="4.4" height="4.4"/><rect x="1421.2" y="1254.0" width="4.4" height="4.4"/><rect x="1425.6" y="1254.0" width="4.4" height="4.4"/><rect x="1430.0" y="1254.0" width="4.4" height="4.4"/><rect x="1434.4" y="1254.0" width="4.4" height="4.4"/><rect x="1438.8" y="1254.0" width="4.4" height="4.4"/><rect x="1443.2" y="1254.0" width="4.4" height="4.4"/><rect x="1447.6" y="1254.0" width="4.4" height="4.4"/><rect x="1452.0" y="1254.0" width="4.4" height="4.4"/><rect x="1460.8" y="1254.0" width="4.4" height="4.4"/><rect x="1465.2" y="1254.0" width="4.4" height="4.4"/><rect x="1469.6" y="1254.0" width="4.4" height="4.4"/><rect x="1474.0" y="1254.0" width="4.4" height="4.4"/><rect x="1478.4" y="1254.0" width="4.4" height="4.4"/><rect x="1482.8" y="1254.0" width="4.4" height="4.4"/><rect x="1487.2" y="1254.0" width="4.4" height="4.4"/><rect x="1491.6" y="1254.0" width="4.4" height="4.4"/><rect x="1496.0" y="1254.0" width="4.4" height="4.4"/><rect x="1513.6" y="1254.0" width="4.4" height="4.4"/><rect x="1359.6" y="1258.4" width="4.4" height="4.4"/><rect x="1364.0" y="1258.4" width="4.4" height="4.4"/><rect x="1368.4" y="1258.4" width="4.4" height="4.4"/><rect x="1372.8" y="1258.4" width="4.4" height="4.4"/><rect x="1377.2" y="1258.4" width="4.4" height="4.4"/><rect x="1381.6" y="1258.4" width="4.4" height="4.4"/><rect x="1386.0" y="1258.4" width="4.4" height="4.4"/><rect x="1390.4" y="1258.4" width="4.4" height="4.4"/><rect x="1394.8" y="1258.4" width="4.4" height="4.4"/><rect x="1399.2" y="1258.4" width="4.4" height="4.4"/><rect x="1403.6" y="1258.4" width="4.4" height="4.4"/><rect x="1408.0" y="1258.4" width="4.4" height="4.4"/><rect x="1416.8" y="1258.4" width="4.4" height="4.4"/><rect x="1421.2" y="1258.4" width="4.4" height="4.4"/><rect x="1425.6" y="1258.4" width="4.4" height="4.4"/><rect x="1430.0" y="1258.4" width="4.4" height="4.4"/><rect x="1434.4" y="1258.4" width="4.4" height="4.4"/><rect x="1438.8" y="1258.4" width="4.4" height="4.4"/><rect x="1465.2" y="1258.4" width="4.4" height="4.4"/><rect x="1469.6" y="1258.4" width="4.4" height="4.4"/><rect x="1482.8" y="1258.4" width="4.4" height="4.4"/><rect x="1496.0" y="1258.4" width="4.4" height="4.4"/><rect x="1355.2" y="1262.8" width="4.4" height="4.4"/><rect x="1359.6" y="1262.8" width="4.4" height="4.4"/><rect x="1364.0" y="1262.8" width="4.4" height="4.4"/><rect x="1368.4" y="1262.8" width="4.4" height="4.4"/><rect x="1372.8" y="1262.8" width="4.4" height="4.4"/><rect x="1377.2" y="1262.8" width="4.4" height="4.4"/><rect x="1381.6" y="1262.8" width="4.4" height="4.4"/><rect x="1390.4" y="1262.8" width="4.4" height="4.4"/><rect x="1394.8" y="1262.8" width="4.4" height="4.4"/><rect x="1399.2" y="1262.8" width="4.4" height="4.4"/><rect x="1403.6" y="1262.8" width="4.4" height="4.4"/><rect x="1408.0" y="1262.8" width="4.4" height="4.4"/><rect x="1412.4" y="1262.8" width="4.4" height="4.4"/><rect x="1416.8" y="1262.8" width="4.4" height="4.4"/><rect x="1421.2" y="1262.8" width="4.4" height="4.4"/><rect x="1425.6" y="1262.8" width="4.4" height="4.4"/><rect x="1430.0" y="1262.8" width="4.4" height="4.4"/><rect x="1434.4" y="1262.8" width="4.4" height="4.4"/><rect x="1438.8" y="1262.8" width="4.4" height="4.4"/><rect x="1452.0" y="1262.8" width="4.4" height="4.4"/><rect x="1456.4" y="1262.8" width="4.4" height="4.4"/><rect x="1460.8" y="1262.8" width="4.4" height="4.4"/><rect x="1465.2" y="1262.8" width="4.4" height="4.4"/><rect x="1469.6" y="1262.8" width="4.4" height="4.4"/><rect x="1478.4" y="1262.8" width="4.4" height="4.4"/><rect x="1491.6" y="1262.8" width="4.4" height="4.4"/><rect x="1496.0" y="1262.8" width="4.4" height="4.4"/><rect x="1355.2" y="1267.2" width="4.4" height="4.4"/><rect x="1359.6" y="1267.2" width="4.4" height="4.4"/><rect x="1377.2" y="1267.2" width="4.4" height="4.4"/><rect x="1381.6" y="1267.2" width="4.4" height="4.4"/><rect x="1390.4" y="1267.2" width="4.4" height="4.4"/><rect x="1394.8" y="1267.2" width="4.4" height="4.4"/><rect x="1399.2" y="1267.2" width="4.4" height="4.4"/><rect x="1403.6" y="1267.2" width="4.4" height="4.4"/><rect x="1412.4" y="1267.2" width="4.4" height="4.4"/><rect x="1416.8" y="1267.2" width="4.4" height="4.4"/><rect x="1421.2" y="1267.2" width="4.4" height="4.4"/><rect x="1425.6" y="1267.2" width="4.4" height="4.4"/><rect x="1430.0" y="1267.2" width="4.4" height="4.4"/><rect x="1434.4" y="1267.2" width="4.4" height="4.4"/><rect x="1438.8" y="1267.2" width="4.4" height="4.4"/><rect x="1443.2" y="1267.2" width="4.4" height="4.4"/><rect x="1452.0" y="1267.2" width="4.4" height="4.4"/><rect x="1456.4" y="1267.2" width="4.4" height="4.4"/><rect x="1469.6" y="1267.2" width="4.4" height="4.4"/><rect x="1474.0" y="1267.2" width="4.4" height="4.4"/><rect x="1478.4" y="1267.2" width="4.4" height="4.4"/><rect x="1491.6" y="1267.2" width="4.4" height="4.4"/><rect x="1496.0" y="1267.2" width="4.4" height="4.4"/><rect x="1350.8" y="1271.6" width="4.4" height="4.4"/><rect x="1355.2" y="1271.6" width="4.4" height="4.4"/><rect x="1359.6" y="1271.6" width="4.4" height="4.4"/><rect x="1386.0" y="1271.6" width="4.4" height="4.4"/><rect x="1399.2" y="1271.6" width="4.4" height="4.4"/><rect x="1416.8" y="1271.6" width="4.4" height="4.4"/><rect x="1421.2" y="1271.6" width="4.4" height="4.4"/><rect x="1425.6" y="1271.6" width="4.4" height="4.4"/><rect x="1430.0" y="1271.6" width="4.4" height="4.4"/><rect x="1434.4" y="1271.6" width="4.4" height="4.4"/><rect x="1438.8" y="1271.6" width="4.4" height="4.4"/><rect x="1443.2" y="1271.6" width="4.4" height="4.4"/><rect x="1447.6" y="1271.6" width="4.4" height="4.4"/><rect x="1452.0" y="1271.6" width="4.4" height="4.4"/><rect x="1460.8" y="1271.6" width="4.4" height="4.4"/><rect x="1465.2" y="1271.6" width="4.4" height="4.4"/><rect x="1478.4" y="1271.6" width="4.4" height="4.4"/><rect x="1500.4" y="1271.6" width="4.4" height="4.4"/><rect x="1359.6" y="1276.0" width="4.4" height="4.4"/><rect x="1364.0" y="1276.0" width="4.4" height="4.4"/><rect x="1381.6" y="1276.0" width="4.4" height="4.4"/><rect x="1386.0" y="1276.0" width="4.4" height="4.4"/><rect x="1399.2" y="1276.0" width="4.4" height="4.4"/><rect x="1403.6" y="1276.0" width="4.4" height="4.4"/><rect x="1412.4" y="1276.0" width="4.4" height="4.4"/><rect x="1421.2" y="1276.0" width="4.4" height="4.4"/><rect x="1425.6" y="1276.0" width="4.4" height="4.4"/><rect x="1430.0" y="1276.0" width="4.4" height="4.4"/><rect x="1438.8" y="1276.0" width="4.4" height="4.4"/><rect x="1443.2" y="1276.0" width="4.4" height="4.4"/><rect x="1447.6" y="1276.0" width="4.4" height="4.4"/><rect x="1452.0" y="1276.0" width="4.4" height="4.4"/><rect x="1469.6" y="1276.0" width="4.4" height="4.4"/><rect x="1478.4" y="1276.0" width="4.4" height="4.4"/><rect x="1482.8" y="1276.0" width="4.4" height="4.4"/><rect x="1500.4" y="1276.0" width="4.4" height="4.4"/><rect x="1504.8" y="1276.0" width="4.4" height="4.4"/><rect x="1368.4" y="1280.4" width="4.4" height="4.4"/><rect x="1372.8" y="1280.4" width="4.4" height="4.4"/><rect x="1381.6" y="1280.4" width="4.4" height="4.4"/><rect x="1386.0" y="1280.4" width="4.4" height="4.4"/><rect x="1390.4" y="1280.4" width="4.4" height="4.4"/><rect x="1394.8" y="1280.4" width="4.4" height="4.4"/><rect x="1399.2" y="1280.4" width="4.4" height="4.4"/><rect x="1443.2" y="1280.4" width="4.4" height="4.4"/><rect x="1447.6" y="1280.4" width="4.4" height="4.4"/><rect x="1452.0" y="1280.4" width="4.4" height="4.4"/><rect x="1487.2" y="1280.4" width="4.4" height="4.4"/><rect x="1491.6" y="1280.4" width="4.4" height="4.4"/><rect x="1500.4" y="1280.4" width="4.4" height="4.4"/><rect x="1350.8" y="1284.8" width="4.4" height="4.4"/><rect x="1377.2" y="1284.8" width="4.4" height="4.4"/><rect x="1381.6" y="1284.8" width="4.4" height="4.4"/><rect x="1394.8" y="1284.8" width="4.4" height="4.4"/><rect x="1438.8" y="1284.8" width="4.4" height="4.4"/><rect x="1443.2" y="1284.8" width="4.4" height="4.4"/><rect x="1447.6" y="1284.8" width="4.4" height="4.4"/><rect x="1452.0" y="1284.8" width="4.4" height="4.4"/><rect x="1465.2" y="1284.8" width="4.4" height="4.4"/><rect x="1469.6" y="1284.8" width="4.4" height="4.4"/><rect x="1478.4" y="1284.8" width="4.4" height="4.4"/><rect x="1482.8" y="1284.8" width="4.4" height="4.4"/><rect x="1504.8" y="1284.8" width="4.4" height="4.4"/><rect x="1350.8" y="1289.2" width="4.4" height="4.4"/><rect x="1390.4" y="1289.2" width="4.4" height="4.4"/><rect x="1394.8" y="1289.2" width="4.4" height="4.4"/><rect x="1403.6" y="1289.2" width="4.4" height="4.4"/><rect x="1408.0" y="1289.2" width="4.4" height="4.4"/><rect x="1438.8" y="1289.2" width="4.4" height="4.4"/><rect x="1447.6" y="1289.2" width="4.4" height="4.4"/><rect x="1452.0" y="1289.2" width="4.4" height="4.4"/><rect x="1460.8" y="1289.2" width="4.4" height="4.4"/><rect x="1465.2" y="1289.2" width="4.4" height="4.4"/><rect x="1469.6" y="1289.2" width="4.4" height="4.4"/><rect x="1474.0" y="1289.2" width="4.4" height="4.4"/><rect x="1478.4" y="1289.2" width="4.4" height="4.4"/><rect x="1364.0" y="1293.6" width="4.4" height="4.4"/><rect x="1381.6" y="1293.6" width="4.4" height="4.4"/><rect x="1386.0" y="1293.6" width="4.4" height="4.4"/><rect x="1390.4" y="1293.6" width="4.4" height="4.4"/><rect x="1394.8" y="1293.6" width="4.4" height="4.4"/><rect x="1399.2" y="1293.6" width="4.4" height="4.4"/><rect x="1408.0" y="1293.6" width="4.4" height="4.4"/><rect x="1412.4" y="1293.6" width="4.4" height="4.4"/><rect x="1434.4" y="1293.6" width="4.4" height="4.4"/><rect x="1438.8" y="1293.6" width="4.4" height="4.4"/><rect x="1443.2" y="1293.6" width="4.4" height="4.4"/><rect x="1452.0" y="1293.6" width="4.4" height="4.4"/><rect x="1474.0" y="1293.6" width="4.4" height="4.4"/><rect x="1364.0" y="1298.0" width="4.4" height="4.4"/><rect x="1377.2" y="1298.0" width="4.4" height="4.4"/><rect x="1381.6" y="1298.0" width="4.4" height="4.4"/><rect x="1386.0" y="1298.0" width="4.4" height="4.4"/><rect x="1394.8" y="1298.0" width="4.4" height="4.4"/><rect x="1408.0" y="1298.0" width="4.4" height="4.4"/><rect x="1412.4" y="1298.0" width="4.4" height="4.4"/><rect x="1434.4" y="1298.0" width="4.4" height="4.4"/><rect x="1438.8" y="1298.0" width="4.4" height="4.4"/><rect x="1443.2" y="1298.0" width="4.4" height="4.4"/><rect x="1447.6" y="1298.0" width="4.4" height="4.4"/><rect x="1390.4" y="1302.4" width="4.4" height="4.4"/><rect x="1394.8" y="1302.4" width="4.4" height="4.4"/><rect x="1399.2" y="1302.4" width="4.4" height="4.4"/><rect x="1403.6" y="1302.4" width="4.4" height="4.4"/><rect x="1408.0" y="1302.4" width="4.4" height="4.4"/><rect x="1412.4" y="1302.4" width="4.4" height="4.4"/><rect x="1416.8" y="1302.4" width="4.4" height="4.4"/><rect x="1425.6" y="1302.4" width="4.4" height="4.4"/><rect x="1430.0" y="1302.4" width="4.4" height="4.4"/><rect x="1438.8" y="1302.4" width="4.4" height="4.4"/><rect x="1443.2" y="1302.4" width="4.4" height="4.4"/><rect x="1478.4" y="1302.4" width="4.4" height="4.4"/><rect x="1482.8" y="1302.4" width="4.4" height="4.4"/><rect x="1386.0" y="1306.8" width="4.4" height="4.4"/><rect x="1390.4" y="1306.8" width="4.4" height="4.4"/><rect x="1394.8" y="1306.8" width="4.4" height="4.4"/><rect x="1399.2" y="1306.8" width="4.4" height="4.4"/><rect x="1403.6" y="1306.8" width="4.4" height="4.4"/><rect x="1408.0" y="1306.8" width="4.4" height="4.4"/><rect x="1425.6" y="1306.8" width="4.4" height="4.4"/><rect x="1430.0" y="1306.8" width="4.4" height="4.4"/><rect x="1434.4" y="1306.8" width="4.4" height="4.4"/><rect x="1438.8" y="1306.8" width="4.4" height="4.4"/><rect x="1469.6" y="1306.8" width="4.4" height="4.4"/><rect x="1474.0" y="1306.8" width="4.4" height="4.4"/><rect x="1478.4" y="1306.8" width="4.4" height="4.4"/><rect x="1386.0" y="1311.2" width="4.4" height="4.4"/><rect x="1390.4" y="1311.2" width="4.4" height="4.4"/><rect x="1399.2" y="1311.2" width="4.4" height="4.4"/><rect x="1408.0" y="1311.2" width="4.4" height="4.4"/><rect x="1430.0" y="1311.2" width="4.4" height="4.4"/><rect x="1434.4" y="1311.2" width="4.4" height="4.4"/><rect x="1452.0" y="1311.2" width="4.4" height="4.4"/><rect x="1460.8" y="1311.2" width="4.4" height="4.4"/><rect x="1465.2" y="1311.2" width="4.4" height="4.4"/><rect x="1430.0" y="1315.6" width="4.4" height="4.4"/><rect x="1434.4" y="1315.6" width="4.4" height="4.4"/><rect x="1460.8" y="1315.6" width="4.4" height="4.4"/><rect x="1465.2" y="1315.6" width="4.4" height="4.4"/><rect x="1421.2" y="1320.0" width="4.4" height="4.4"/><rect x="1425.6" y="1320.0" width="4.4" height="4.4"/><rect x="1430.0" y="1320.0" width="4.4" height="4.4"/><rect x="1416.8" y="1324.4" width="4.4" height="4.4"/><rect x="1421.2" y="1324.4" width="4.4" height="4.4"/><rect x="1447.6" y="1324.4" width="4.4" height="4.4"/></g>
<g fill="#808080">
<circle cx="1683.1" cy="1289.5" r="2.6"/>
<circle cx="1691.4" cy="1289.0" r="2.6"/>
<circle cx="1697.4" cy="1282.9" r="2.6"/>
<circle cx="1705.2" cy="1284.8" r="2.6"/>
<circle cx="1707.9" cy="1289.0" r="2.6"/>
<circle cx="1709.3" cy="1295.9" r="2.6"/>
<circle cx="1710.7" cy="1300.0" r="2.6"/>
<circle cx="1713.4" cy="1291.7" r="2.6"/>
<circle cx="1716.2" cy="1302.8" r="2.6"/>
<circle cx="1719.0" cy="1293.1" r="2.6"/>
<circle cx="1724.5" cy="1289.0" r="2.6"/>
<circle cx="1727.2" cy="1294.5" r="2.6"/>
<circle cx="1732.8" cy="1282.1" r="2.6"/>
<circle cx="1735.5" cy="1289.0" r="2.6"/>
<circle cx="1738.3" cy="1294.5" r="2.6"/>
<circle cx="1741.0" cy="1300.0" r="2.6"/>
<circle cx="1746.6" cy="1289.0" r="2.6"/>
<circle cx="1749.3" cy="1293.1" r="2.6"/>
<circle cx="1752.1" cy="1297.2" r="2.6"/>
<circle cx="1754.8" cy="1286.2" r="2.6"/>
<circle cx="1760.3" cy="1289.0" r="2.6"/>
<circle cx="1763.1" cy="1293.1" r="2.6"/>
<circle cx="1765.9" cy="1297.2" r="2.6"/>
<circle cx="1768.6" cy="1291.7" r="2.6"/>
<circle cx="1772.8" cy="1290.3" r="2.6"/>
<circle cx="1779.7" cy="1291.7" r="2.6"/>
<circle cx="1783.8" cy="1295.9" r="2.6"/>
<circle cx="1786.6" cy="1284.8" r="2.6"/>
<circle cx="1798.4" cy="1293.1" r="2.6"/>
<circle cx="1794.8" cy="1302.8" r="2.6"/>
<circle cx="1680.3" cy="1302.8" r="2.6"/>
<circle cx="1680.3" cy="1293.9" r="2.6"/>
<circle cx="1687.2" cy="1300.0" r="2.6"/>
<circle cx="1688.6" cy="1308.3" r="2.6"/>
<circle cx="1695.5" cy="1306.9" r="2.6"/>
<circle cx="1698.3" cy="1308.3" r="2.6"/>
<circle cx="1702.4" cy="1302.8" r="2.6"/>
<circle cx="1705.2" cy="1308.3" r="2.6"/>
<circle cx="1707.9" cy="1309.7" r="2.6"/>
<circle cx="1713.4" cy="1309.7" r="2.6"/>
<circle cx="1728.6" cy="1308.3" r="2.6"/>
<circle cx="1736.9" cy="1308.3" r="2.6"/>
<circle cx="1741.0" cy="1305.5" r="2.6"/>
<circle cx="1743.8" cy="1306.9" r="2.6"/>
<circle cx="1746.6" cy="1308.3" r="2.6"/>
<circle cx="1752.1" cy="1310.5" r="2.6"/>
<circle cx="1757.6" cy="1306.9" r="2.6"/>
<circle cx="1772.8" cy="1308.3" r="2.6"/>
<circle cx="1691.4" cy="1295.9" r="2.6"/>
<circle cx="1695.5" cy="1293.1" r="2.6"/>
<circle cx="1699.7" cy="1297.2" r="2.6"/>
<circle cx="1702.4" cy="1290.3" r="2.6"/>
<circle cx="1706.6" cy="1293.1" r="2.6"/>
<circle cx="1712.1" cy="1294.5" r="2.6"/>
<circle cx="1714.8" cy="1297.8" r="2.6"/>
<circle cx="1720.3" cy="1296.7" r="2.6"/>
<circle cx="1723.1" cy="1297.8" r="2.6"/>
<circle cx="1730.0" cy="1293.1" r="2.6"/>
<circle cx="1742.4" cy="1293.9" r="2.6"/>
<circle cx="1745.2" cy="1296.7" r="2.6"/>
<circle cx="1750.7" cy="1291.7" r="2.6"/>
<circle cx="1757.6" cy="1294.5" r="2.6"/>
<circle cx="1761.7" cy="1297.2" r="2.6"/>
<circle cx="1764.5" cy="1289.0" r="2.6"/>
<circle cx="1770.0" cy="1294.5" r="2.6"/>
<circle cx="1775.5" cy="1293.9" r="2.6"/>
<circle cx="1699.7" cy="1287.6" r="2.6"/>
<circle cx="1703.8" cy="1294.5" r="2.6"/>
<circle cx="1707.9" cy="1291.7" r="2.6"/>
<circle cx="1710.7" cy="1287.6" r="2.6"/>
<circle cx="1713.4" cy="1297.2" r="2.6"/>
<circle cx="1717.6" cy="1289.0" r="2.6"/>
<circle cx="1721.2" cy="1291.7" r="2.6"/>
<circle cx="1725.9" cy="1293.1" r="2.6"/>
<circle cx="1731.4" cy="1289.5" r="2.6"/>
<circle cx="1735.0" cy="1293.1" r="2.6"/>
<circle cx="1738.8" cy="1290.3" r="2.6"/>
<circle cx="1743.2" cy="1291.7" r="2.6"/>
<circle cx="1747.9" cy="1295.0" r="2.6"/>
<circle cx="1753.4" cy="1291.2" r="2.6"/>
<circle cx="1759.8" cy="1292.3" r="2.6"/>
<circle cx="1766.4" cy="1293.9" r="2.6"/>
<circle cx="1694.7" cy="1289.0" r="2.6"/>
<circle cx="1699.1" cy="1300.6" r="2.6"/>
<circle cx="1705.7" cy="1297.8" r="2.6"/>
<circle cx="1709.3" cy="1305.5" r="2.6"/>
<circle cx="1685.3" cy="1294.5" r="2.6"/>
<circle cx="1689.2" cy="1291.2" r="2.6"/>
<circle cx="1946.6" cy="1239.3" r="2.6"/>
<circle cx="1949.3" cy="1242.1" r="2.6"/>
<circle cx="1952.1" cy="1240.7" r="2.6"/>
<circle cx="1954.8" cy="1244.8" r="2.6"/>
<circle cx="1950.7" cy="1246.2" r="2.6"/>
<circle cx="1947.4" cy="1247.6" r="2.6"/>
<circle cx="1953.4" cy="1249.0" r="2.6"/>
<circle cx="1956.2" cy="1242.1" r="2.6"/>
<circle cx="1959.0" cy="1236.6" r="2.6"/>
<circle cx="1961.7" cy="1243.4" r="2.6"/>
<circle cx="1964.5" cy="1242.1" r="2.6"/>
<circle cx="1967.2" cy="1244.8" r="2.6"/>
<circle cx="1970.0" cy="1242.1" r="2.6"/>
<circle cx="1972.8" cy="1242.1" r="2.6"/>
<circle cx="1957.6" cy="1255.9" r="2.6"/>
<circle cx="1967.2" cy="1253.1" r="2.6"/>
<circle cx="1948.5" cy="1251.7" r="2.6"/>
<circle cx="1982.4" cy="1235.2" r="2.6"/>
<circle cx="1983.8" cy="1247.6" r="2.6"/>
<circle cx="1989.3" cy="1253.1" r="2.6"/>
<circle cx="1990.7" cy="1250.3" r="2.6"/>
<circle cx="2010.0" cy="1246.2" r="2.6"/>
<circle cx="2012.8" cy="1250.3" r="2.6"/>
<circle cx="2016.9" cy="1251.7" r="2.6"/>
<circle cx="2026.6" cy="1249.0" r="2.6"/>
<circle cx="2033.4" cy="1255.9" r="2.6"/>
<circle cx="2044.5" cy="1253.1" r="2.6"/>
<circle cx="2050.0" cy="1236.6" r="2.6"/>
<circle cx="2047.2" cy="1276.6" r="2.6"/>
<circle cx="2083.1" cy="1261.4" r="2.6"/>
<circle cx="2090.0" cy="1289.0" r="2.6"/>
<circle cx="2105.2" cy="1293.1" r="2.6"/>
<circle cx="1952.1" cy="1265.5" r="2.6"/>
<circle cx="1953.4" cy="1271.0" r="2.6"/>
<circle cx="1968.6" cy="1271.0" r="2.6"/>
<circle cx="1968.6" cy="1277.9" r="2.6"/>
<circle cx="1958.3" cy="1288.4" r="2.6"/>
<circle cx="1965.6" cy="1289.6" r="2.6"/>
<circle cx="1979.7" cy="1280.9" r="2.6"/>
<circle cx="1991.4" cy="1284.6" r="2.6"/>
<circle cx="2000.1" cy="1294.5" r="2.6"/>
<circle cx="1971.5" cy="1290.3" r="2.6"/>
<circle cx="1953.5" cy="1290.2" r="2.6"/>
<circle cx="1993.1" cy="1293.0" r="2.6"/>
<circle cx="1982.2" cy="1293.2" r="2.6"/>
<circle cx="1977.8" cy="1283.7" r="2.6"/>
<circle cx="1946.9" cy="1294.6" r="2.6"/>
<circle cx="1971.3" cy="1291.8" r="2.6"/>
<circle cx="1993.7" cy="1295.9" r="2.6"/>
<circle cx="1967.0" cy="1293.4" r="2.6"/>
<circle cx="1969.7" cy="1296.0" r="2.6"/>
<circle cx="1993.7" cy="1282.9" r="2.6"/>
<circle cx="1957.1" cy="1296.6" r="2.6"/>
<circle cx="1969.2" cy="1290.0" r="2.6"/>
<circle cx="1961.8" cy="1287.7" r="2.6"/>
<circle cx="1966.5" cy="1284.7" r="2.6"/>
<circle cx="1977.5" cy="1289.2" r="2.6"/>
<circle cx="1995.1" cy="1296.1" r="2.6"/>
<circle cx="1992.4" cy="1291.8" r="2.6"/>
<circle cx="1954.2" cy="1294.6" r="2.6"/>
<circle cx="1998.4" cy="1290.1" r="2.6"/>
<circle cx="1984.6" cy="1294.5" r="2.6"/>
<circle cx="1976.8" cy="1283.4" r="2.6"/>
<circle cx="1948.7" cy="1294.4" r="2.6"/>
<circle cx="1999.8" cy="1293.9" r="2.6"/>
<circle cx="1967.8" cy="1280.8" r="2.6"/>
<circle cx="1961.4" cy="1292.8" r="2.6"/>
<circle cx="1993.3" cy="1290.9" r="2.6"/>
<circle cx="1947.7" cy="1291.8" r="2.6"/>
<circle cx="1963.4" cy="1294.9" r="2.6"/>
<circle cx="1999.3" cy="1297.2" r="2.6"/>
<circle cx="1962.3" cy="1279.4" r="2.6"/>
<circle cx="1978.3" cy="1278.5" r="2.6"/>
<circle cx="1956.1" cy="1285.8" r="2.6"/>
<circle cx="1978.9" cy="1281.4" r="2.6"/>
<circle cx="1993.0" cy="1296.6" r="2.6"/>
<circle cx="1994.6" cy="1288.3" r="2.6"/>
<circle cx="1973.9" cy="1290.4" r="2.6"/>
<circle cx="1978.0" cy="1288.7" r="2.6"/>
<circle cx="1979.4" cy="1289.1" r="2.6"/>
<circle cx="1969.0" cy="1291.8" r="2.6"/>
<circle cx="1958.3" cy="1283.7" r="2.6"/>
<circle cx="1999.1" cy="1289.8" r="2.6"/>
<circle cx="1945.8" cy="1285.9" r="2.6"/>
<circle cx="1977.2" cy="1278.3" r="2.6"/>
<circle cx="1979.1" cy="1281.7" r="2.6"/>
<circle cx="1979.8" cy="1291.9" r="2.6"/>
<circle cx="1964.6" cy="1291.6" r="2.6"/>
<circle cx="1985.9" cy="1281.7" r="2.6"/>
<circle cx="1982.5" cy="1284.8" r="2.6"/>
<circle cx="1970.3" cy="1289.4" r="2.6"/>
<circle cx="1962.8" cy="1285.0" r="2.6"/>
<circle cx="1962.4" cy="1285.1" r="2.6"/>
<circle cx="1978.0" cy="1283.7" r="2.6"/>
<circle cx="1966.0" cy="1292.8" r="2.6"/>
<circle cx="1946.7" cy="1288.9" r="2.6"/>
<circle cx="1985.7" cy="1284.4" r="2.6"/>
<circle cx="1989.5" cy="1283.8" r="2.6"/>
<circle cx="1969.2" cy="1291.4" r="2.6"/>
<circle cx="1950.8" cy="1284.1" r="2.6"/>
<circle cx="1963.6" cy="1294.0" r="2.6"/>
<circle cx="1969.4" cy="1294.5" r="2.6"/>
<circle cx="1954.5" cy="1284.4" r="2.6"/>
<circle cx="1981.0" cy="1288.2" r="2.6"/>
<circle cx="1957.6" cy="1280.3" r="2.6"/>
<circle cx="1974.4" cy="1281.6" r="2.6"/>
<circle cx="2027.1" cy="1294.6" r="2.6"/>
<circle cx="2006.4" cy="1285.3" r="2.6"/>
<circle cx="2027.1" cy="1291.3" r="2.6"/>
<circle cx="2027.0" cy="1286.4" r="2.6"/>
<circle cx="2004.6" cy="1285.5" r="2.6"/>
<circle cx="2026.6" cy="1285.2" r="2.6"/>
<circle cx="2011.8" cy="1287.6" r="2.6"/>
<circle cx="2014.2" cy="1287.5" r="2.6"/>
<circle cx="2030.8" cy="1283.3" r="2.6"/>
<circle cx="2000.5" cy="1296.3" r="2.6"/>
<circle cx="2029.5" cy="1297.0" r="2.6"/>
<circle cx="2014.7" cy="1296.4" r="2.6"/>
</g>
<line x1="1695.5" y1="1294.5" x2="1839" y2="1175.9" stroke="#000" stroke-width="1.4" stroke-dasharray="5,3"/>
<line x1="1950.1" y1="1311.6" x2="2104.6" y2="1176.4" stroke="#000" stroke-width="1.4" stroke-dasharray="5,3"/>

<rect x="233.5" y="45" width="178.5" height="1287" fill="#e6e6e6"/>
<rect x="233.5" y="136.4" width="178.5" height="6" fill="#fff"/>
<rect x="233.5" y="242.3" width="178.5" height="6" fill="#fff"/>
<rect x="233.5" y="375.2" width="178.5" height="6" fill="#fff"/>
<rect x="233.5" y="507.7" width="178.5" height="6" fill="#fff"/>
<rect x="233.5" y="640.7" width="178.5" height="6" fill="#fff"/>
<rect x="233.5" y="773.7" width="178.5" height="6" fill="#fff"/>
<rect x="233.5" y="938.6" width="178.5" height="6" fill="#fff"/>
<rect x="233.5" y="1064.4" width="178.5" height="6" fill="#fff"/>
<rect x="233.5" y="1196.6" width="178.5" height="6" fill="#fff"/>
<g stroke="#000" stroke-width="2.4">
<line x1="0" y1="139.4" x2="984" y2="139.4"/>
<line x1="0" y1="245.3" x2="984" y2="245.3"/>
<line x1="0" y1="378.2" x2="984" y2="378.2"/>
<line x1="0" y1="510.7" x2="984" y2="510.7"/>
<line x1="0" y1="643.7" x2="984" y2="643.7"/>
<line x1="0" y1="776.7" x2="984" y2="776.7"/>
<line x1="0" y1="941.6" x2="984" y2="941.6"/>
<line x1="0" y1="1067.4" x2="984" y2="1067.4"/>
<line x1="0" y1="1199.6" x2="984" y2="1199.6"/>
<line x1="231.7" y1="45" x2="231.7" y2="1332"/>
<line x1="415" y1="45" x2="415" y2="1332"/>
<line x1="548.6" y1="45" x2="548.6" y2="1332"/>
<line x1="684.6" y1="45" x2="684.6" y2="1332"/>
<line x1="846.2" y1="45" x2="846.2" y2="1332"/>
</g>
<g font-family="Carlito, 'Liberation Sans', sans-serif" font-size="30.6px" text-anchor="middle" fill="#000">
<text x="322.7" y="84.2" font-weight="bold" font-size="30.9px" textLength="146.39" lengthAdjust="spacingAndGlyphs">GraphMeta</text>
<text x="322.7" y="121.4" font-weight="bold" font-size="30.9px" textLength="52.67" lengthAdjust="spacingAndGlyphs">Mat</text>
<text x="481.5" y="102.8" textLength="48.58" lengthAdjust="spacingAndGlyphs">VAE</text>
<text x="616.3" y="102.8" textLength="98.98" lengthAdjust="spacingAndGlyphs">Tandem</text>
<text x="765.3" y="102.8" textLength="110.97" lengthAdjust="spacingAndGlyphs">Diffusion</text>
<text x="914.5" y="102.8" textLength="56.77" lengthAdjust="spacingAndGlyphs">GAN</text>
<text x="116" y="202.6" font-weight="bold" font-size="30.9px" textLength="127.41" lengthAdjust="spacingAndGlyphs">3D – truss</text>
<text x="116" y="284" font-weight="bold" font-size="30.9px" textLength="159.05" lengthAdjust="spacingAndGlyphs">Large design</text>
<text x="116" y="321.7" font-weight="bold" font-size="30.9px" textLength="72.64" lengthAdjust="spacingAndGlyphs">space</text>
<text x="116" y="417.6" font-weight="bold" font-size="30.9px" textLength="127.06" lengthAdjust="spacingAndGlyphs">Nonlinear</text>
<text x="116" y="454" font-weight="bold" font-size="30.9px" textLength="128.47" lengthAdjust="spacingAndGlyphs">responses</text>
<text x="116" y="550" font-weight="bold" font-size="30.9px" textLength="191.92" lengthAdjust="spacingAndGlyphs">Large response</text>
<text x="116" y="587.6" font-weight="bold" font-size="30.9px" textLength="127.92" lengthAdjust="spacingAndGlyphs">variability</text>
<text x="116" y="683" font-weight="bold" font-size="30.9px" textLength="118.34" lengthAdjust="spacingAndGlyphs">Low-data</text>
<text x="116" y="719.6" font-weight="bold" font-size="30.9px" textLength="101.42" lengthAdjust="spacingAndGlyphs">regimes</text>
<text x="116" y="814" font-weight="bold" font-size="30.9px" textLength="171.28" lengthAdjust="spacingAndGlyphs">Topology and</text>
<text x="116" y="851" font-weight="bold" font-size="30.9px" textLength="47.17" lengthAdjust="spacingAndGlyphs">size</text>
<text x="116" y="887.7" font-weight="bold" font-size="30.9px" textLength="164.12" lengthAdjust="spacingAndGlyphs">independent</text>
<text x="116" y="996.6" font-weight="bold" font-size="30.9px" textLength="172.53" lengthAdjust="spacingAndGlyphs">Extrapolation</text>
<text x="116" y="1033.3" font-weight="bold" font-size="30.9px" textLength="145.12" lengthAdjust="spacingAndGlyphs">capabilities</text>
<text x="116" y="1107" font-weight="bold" font-size="30.9px" textLength="134.52" lengthAdjust="spacingAndGlyphs">Geometric</text>
<text x="116" y="1143.4" font-weight="bold" font-size="30.9px" textLength="141.11" lengthAdjust="spacingAndGlyphs">constraints</text>
<text x="116" y="1257.4" font-weight="bold" font-size="30.9px" textLength="171.05" lengthAdjust="spacingAndGlyphs">Defect-aware</text>
<text x="116" y="1293" font-weight="bold" font-size="30.9px" textLength="83.27" lengthAdjust="spacingAndGlyphs">design</text>
</g>
<use href="#ic" x="321.8" y="190"/>
<use href="#ic" x="475.2" y="190.3"/>
<use href="#ic" x="615.4" y="192"/>
<use href="#ix" x="764.4" y="190"/>
<use href="#ix" x="918.3" y="187.3"/>
<use href="#ic" x="321.8" y="306.2"/>
<use href="#ic" x="475.2" y="306"/>
<use href="#ix" x="616.8" y="306"/>
<use href="#ic" x="766.8" y="306"/>
<use href="#ic" x="918.3" y="306"/>
<use href="#ic" x="321.6" y="451.7"/>
<use href="#ic" x="475.2" y="451.7"/>
<use href="#ic" x="616.8" y="451.7"/>
<use href="#ic" x="766" y="451.7"/>
<use href="#ic" x="918.3" y="451.7"/>
<use href="#ic" x="321.6" y="567.5"/>
<use href="#ix" x="474.4" y="569.8"/>
<use href="#ix" x="614" y="569.8"/>
<use href="#ix" x="763.4" y="569.8"/>
<use href="#ix" x="918.6" y="569.8"/>
<use href="#ic" x="321.6" y="712.6"/>
<use href="#ix" x="476.2" y="711.6"/>
<use href="#ic" x="614" y="710.8"/>
<use href="#ix" x="766" y="709.6"/>
<use href="#ix" x="918.3" y="706.7"/>
<use href="#ic" x="321.3" y="846.7"/>
<use href="#ix" x="476.2" y="844"/>
<use href="#ix" x="618.6" y="844"/>
<use href="#ix" x="767.2" y="846.7"/>
<use href="#ix" x="918.3" y="846.7"/>
<use href="#ic" x="321.3" y="1003.3"/>
<use href="#ic" x="476.2" y="997"/>
<use href="#ix" x="618.6" y="1001"/>
<use href="#ic" x="766.2" y="1001"/>
<use href="#ix" x="918.3" y="1001"/>
<use href="#ic" x="321.3" y="1123"/>
<use href="#ix" x="474.2" y="1127.3"/>
<use href="#ix" x="616.5" y="1129"/>
<use href="#ix" x="766.2" y="1129"/>
<use href="#ix" x="918.3" y="1128"/>
<use href="#ic" x="321.3" y="1261.9"/>
<use href="#ix" x="475.4" y="1263"/>
<use href="#ix" x="618.6" y="1263"/>
<use href="#ix" x="767.8" y="1263"/>
<use href="#ix" x="918.3" y="1263"/>
<g fill="none" stroke="#858585" stroke-width="1.5">
<rect x="1007.6" y="0.8" width="1159" height="327.2"/>
<rect x="1007.6" y="338.2" width="1159" height="337.4"/>
<rect x="1007" y="684.6" width="1159.8" height="364"/>
<rect x="1006.8" y="1061.3" width="1159.9" height="315"/>
</g>
<text x="1590.4" y="36.8" font-size="30.7px" font-family="'Liberation Sans', Arial, sans-serif" text-anchor="middle" fill="#000"  textLength="613.53" lengthAdjust="spacingAndGlyphs">VAE – based methods in the low-data regime</text>
<text x="1598.2" y="371.8" font-size="30.7px" font-family="'Liberation Sans', Arial, sans-serif" text-anchor="middle" fill="#000"  textLength="470.81" lengthAdjust="spacingAndGlyphs">Tandem-network – based methods</text>
<text x="1575.4" y="727" font-size="30.7px" font-family="'Liberation Sans', Arial, sans-serif" text-anchor="middle" fill="#000"  textLength="384.98" lengthAdjust="spacingAndGlyphs">Denoising diffusion methods</text>
<text x="1586.2" y="1100.8" font-size="30.7px" font-family="'Liberation Sans', Arial, sans-serif" text-anchor="middle" fill="#000"  textLength="620.91" lengthAdjust="spacingAndGlyphs">GAN – based methods in the low-data regime</text>
<text x="1155.4" y="319.7" font-size="26px" font-family="'Liberation Sans', Arial, sans-serif" text-anchor="middle" fill="#000"  textLength="52.50" lengthAdjust="spacingAndGlyphs">True</text>
<text x="1432.5" y="320.8" font-size="26.4px" font-family="'Liberation Sans', Arial, sans-serif" text-anchor="middle" fill="#000"  textLength="170.17" lengthAdjust="spacingAndGlyphs">Reconstructed</text>
<text x="1746.8" y="104.4" font-size="26.3px" font-family="'Liberation Sans', Arial, sans-serif" text-anchor="middle" fill="#000"  textLength="206.12" lengthAdjust="spacingAndGlyphs">Node coordinates</text>
<text x="2044.2" y="96.3" font-size="26px" font-family="'Liberation Sans', Arial, sans-serif" text-anchor="middle" fill="#000"  textLength="73.69" lengthAdjust="spacingAndGlyphs">Stress</text>
<text transform="translate(1624.6,199.3) rotate(-90)" font-size="23.4px" font-family="'Liberation Sans', Arial, sans-serif" text-anchor="middle" textLength="104.02" lengthAdjust="spacingAndGlyphs">Prediction</text>
<text x="1748.9" y="315.8" font-size="23.7px" font-family="'Liberation Sans', Arial, sans-serif" text-anchor="middle" fill="#000"  textLength="47.83" lengthAdjust="spacingAndGlyphs">True</text>
<text transform="translate(1905.3,193.9) rotate(-90)" font-size="23.4px" font-family="'Liberation Sans', Arial, sans-serif" text-anchor="middle" textLength="104.02" lengthAdjust="spacingAndGlyphs">Prediction</text>
<text x="2030.5" y="317.3" font-size="23.4px" font-family="'Liberation Sans', Arial, sans-serif" text-anchor="middle" fill="#000"  textLength="47.23" lengthAdjust="spacingAndGlyphs">True</text>
<rect x="1666.2" y="118.5" width="165.5" height="150.5" fill="none" stroke="#222" stroke-width="1.3"/>
<g stroke="#000" stroke-width="1.3">
<line x1="1673.6" y1="269" x2="1673.6" y2="274"/>
<line x1="1749" y1="269" x2="1749" y2="274"/>
<line x1="1824" y1="269" x2="1824" y2="274"/>
<line x1="1666.2" y1="125.3" x2="1661.2" y2="125.3"/>
<line x1="1666.2" y1="194" x2="1661.2" y2="194"/>
<line x1="1666.2" y1="262.3" x2="1661.2" y2="262.3"/>
</g>
<g font-family="'DejaVu Sans', sans-serif" font-size="14.5px" fill="#000">
<text x="1673.6" y="290.6" text-anchor="middle" textLength="21.38" lengthAdjust="spacingAndGlyphs">−1</text>
<text x="1749" y="290.6" text-anchor="middle" textLength="9.23" lengthAdjust="spacingAndGlyphs">0</text>
<text x="1824" y="290.6" text-anchor="middle" textLength="9.23" lengthAdjust="spacingAndGlyphs">1</text>
<text x="1656.2" y="130.6" text-anchor="end" textLength="9.23" lengthAdjust="spacingAndGlyphs">1</text>
<text x="1656.2" y="199.3" text-anchor="end" textLength="9.23" lengthAdjust="spacingAndGlyphs">0</text>
<text x="1656.2" y="267.6" text-anchor="end" textLength="21.38" lengthAdjust="spacingAndGlyphs">−1</text>
</g>
<rect x="1935.6" y="111.8" width="192.5999999999999" height="159.89999999999998" fill="none" stroke="#222" stroke-width="1.4"/>
<g stroke="#000" stroke-width="1.3">
<line x1="1944.4" y1="271.7" x2="1944.4" y2="276.7"/>
<line x1="2033.7" y1="271.7" x2="2033.7" y2="276.7"/>
<line x1="2122.6" y1="271.7" x2="2122.6" y2="276.7"/>
<line x1="1935.6" y1="116.4" x2="1930.6" y2="116.4"/>
<line x1="1935.6" y1="189.3" x2="1930.6" y2="189.3"/>
<line x1="1935.6" y1="262" x2="1930.6" y2="262"/>
</g>
<g font-family="'DejaVu Sans', sans-serif" font-size="17px" fill="#000">
<text x="1944.4" y="293.1" text-anchor="middle" textLength="10.83" lengthAdjust="spacingAndGlyphs">0</text>
<text x="2033.7" y="293.1" text-anchor="middle" textLength="10.83" lengthAdjust="spacingAndGlyphs">3</text>
<text x="2122.6" y="293.1" text-anchor="middle" textLength="10.83" lengthAdjust="spacingAndGlyphs">6</text>
<text x="1925.6" y="122.6" text-anchor="end" textLength="10.83" lengthAdjust="spacingAndGlyphs">6</text>
<text x="1925.6" y="195.5" text-anchor="end" textLength="10.83" lengthAdjust="spacingAndGlyphs">3</text>
<text x="1925.6" y="268.2" text-anchor="end" textLength="10.83" lengthAdjust="spacingAndGlyphs">0</text>
</g>
<text x="1937" y="107" font-family="'DejaVu Sans', sans-serif" font-size="15px">×10<tspan dy="-6.3" font-size="10.5px">−3</tspan></text>
<text x="2081" y="315" font-family="'DejaVu Sans', sans-serif" font-size="15px">×10<tspan dy="-6.3" font-size="10.5px">−3</tspan></text>
<g font-family="Caladea, 'Liberation Serif', serif" font-size="26px"><text x="1669.5" y="142.4" font-style="italic" textLength="14.94" lengthAdjust="spacingAndGlyphs">R</text><text x="1687.7" y="131.9" font-size="18.2px" textLength="8.59" lengthAdjust="spacingAndGlyphs">2</text><text x="1708.0" y="142.4" font-family="'DejaVu Serif', serif" font-size="23.0px" textLength="19.28" lengthAdjust="spacingAndGlyphs">=</text><text x="1734.7" y="142.4" letter-spacing="1.80" textLength="61.84" lengthAdjust="spacingAndGlyphs">0.521</text></g>
<g font-family="Caladea, 'Liberation Serif', serif" font-size="22.2px"><text x="1944.8" y="141" font-style="italic" textLength="12.75" lengthAdjust="spacingAndGlyphs">R</text><text x="1960.3" y="132.0" font-size="15.5px" textLength="7.33" lengthAdjust="spacingAndGlyphs">2</text><text x="1977.7" y="141" font-family="'DejaVu Serif', serif" font-size="19.6px" textLength="16.42" lengthAdjust="spacingAndGlyphs">=</text><text x="2000.5" y="141" letter-spacing="1.54" textLength="53.80" lengthAdjust="spacingAndGlyphs">0.501</text></g>
<rect x="1630" y="437.7" width="179" height="168.59999999999997" fill="none" stroke="#000" stroke-width="1.6"/>
<g stroke="#000" stroke-width="1.3">
<line x1="1638.3" y1="606.3" x2="1638.3" y2="611.3"/>
<line x1="1719.8" y1="606.3" x2="1719.8" y2="611.3"/>
<line x1="1800.7" y1="606.3" x2="1800.7" y2="611.3"/>
<line x1="1630" y1="599" x2="1625" y2="599"/>
<line x1="1630" y1="551.3" x2="1625" y2="551.3"/>
<line x1="1630" y1="503.9" x2="1625" y2="503.9"/>
<line x1="1630" y1="456.2" x2="1625" y2="456.2"/>
</g>
<g font-family="'DejaVu Sans', sans-serif" font-size="16.5px" fill="#000">
<text x="1638.3" y="631.3" text-anchor="middle" textLength="36.75" lengthAdjust="spacingAndGlyphs">0.00</text>
<text x="1719.8" y="631.3" text-anchor="middle" textLength="36.75" lengthAdjust="spacingAndGlyphs">0.15</text>
<text x="1800.7" y="631.3" text-anchor="middle" textLength="36.75" lengthAdjust="spacingAndGlyphs">0.30</text>
<text x="1620" y="605.0" text-anchor="end" textLength="26.25" lengthAdjust="spacingAndGlyphs">0.0</text>
<text x="1620" y="557.3" text-anchor="end" textLength="26.25" lengthAdjust="spacingAndGlyphs">0.5</text>
<text x="1620" y="509.9" text-anchor="end" textLength="26.25" lengthAdjust="spacingAndGlyphs">1.0</text>
<text x="1620" y="462.2" text-anchor="end" textLength="26.25" lengthAdjust="spacingAndGlyphs">1.5</text>
</g>
<rect x="1875" y="435" width="194.0999999999999" height="169.89999999999998" fill="none" stroke="#000" stroke-width="1.6"/>
<g stroke="#000" stroke-width="1.3">
<line x1="1883.1" y1="604.9" x2="1883.1" y2="609.9"/>
<line x1="1972" y1="604.9" x2="1972" y2="609.9"/>
<line x1="2060.6" y1="604.9" x2="2060.6" y2="609.9"/>
<line x1="1875" y1="596.6" x2="1870" y2="596.6"/>
<line x1="1875" y1="560.7" x2="1870" y2="560.7"/>
<line x1="1875" y1="524.8" x2="1870" y2="524.8"/>
<line x1="1875" y1="488.6" x2="1870" y2="488.6"/>
<line x1="1875" y1="452.7" x2="1870" y2="452.7"/>
</g>
<g font-family="'DejaVu Sans', sans-serif" font-size="16.5px" fill="#000">
<text x="1883.1" y="629.9" text-anchor="middle" textLength="36.75" lengthAdjust="spacingAndGlyphs">0.00</text>
<text x="1972" y="629.9" text-anchor="middle" textLength="36.75" lengthAdjust="spacingAndGlyphs">0.15</text>
<text x="2060.6" y="629.9" text-anchor="middle" textLength="36.75" lengthAdjust="spacingAndGlyphs">0.30</text>
<text x="1865" y="602.6" text-anchor="end" textLength="10.50" lengthAdjust="spacingAndGlyphs">0</text>
<text x="1865" y="566.7" text-anchor="end" textLength="10.50" lengthAdjust="spacingAndGlyphs">1</text>
<text x="1865" y="530.8" text-anchor="end" textLength="10.50" lengthAdjust="spacingAndGlyphs">2</text>
<text x="1865" y="494.6" text-anchor="end" textLength="10.50" lengthAdjust="spacingAndGlyphs">3</text>
<text x="1865" y="458.7" text-anchor="end" textLength="10.50" lengthAdjust="spacingAndGlyphs">4</text>
</g>
<text x="1631.5" y="432" font-family="'DejaVu Sans', sans-serif" font-size="16px">×10<tspan dy="-6.7" font-size="11.2px">−3</tspan></text>
<text x="1876.7" y="430" font-family="'DejaVu Sans', sans-serif" font-size="16px">×10<tspan dy="-6.7" font-size="11.2px">−4</tspan></text>
<text transform="translate(1576.5,518) rotate(-90)" font-size="24.1px" font-family="'Liberation Sans', Arial, sans-serif" text-anchor="middle">Norm. stress <tspan font-family="Caladea, 'Liberation Serif', serif" font-style="italic">σ</tspan><tspan font-family="Caladea, 'Liberation Serif', serif">/</tspan><tspan font-family="Caladea, 'Liberation Serif', serif" font-style="italic">E<tspan font-size="15px" dy="4">s</tspan></tspan><tspan dy="-4"> (-)</tspan></text>
<text x="1832.7" y="662.2" font-size="24.1px" font-family="'Liberation Sans', Arial, sans-serif" text-anchor="middle">Strain, <tspan font-family="Caladea, 'Liberation Serif', serif" font-style="italic">ε</tspan> (%)</text>
<text x="1743.6" y="411.5" font-size="23.6px" font-family="'Liberation Sans', Arial, sans-serif" text-anchor="start" fill="#000"  textLength="157.36" lengthAdjust="spacingAndGlyphs">GraphMetaMat</text>
<text x="1976.6" y="411.5" font-size="24.6px" font-family="'Liberation Sans', Arial, sans-serif" text-anchor="start" fill="#000"  textLength="87.50" lengthAdjust="spacingAndGlyphs">Tandem</text>
<text x="1728.6" y="511.6" font-size="24.3px" font-family="'Liberation Sans', Arial, sans-serif" text-anchor="start" fill="#000"  textLength="67.53" lengthAdjust="spacingAndGlyphs">Target</text>
<text x="1993.5" y="585.7" font-size="24.3px" font-family="'Liberation Sans', Arial, sans-serif" text-anchor="start" fill="#000"  textLength="67.53" lengthAdjust="spacingAndGlyphs">Target</text>
<rect x="1189.9" y="801.2" width="192.89999999999986" height="176.89999999999998" fill="none" stroke="#000" stroke-width="1.6"/>
<g stroke="#000" stroke-width="1.3">
<line x1="1198.4" y1="978.1" x2="1198.4" y2="983.1"/>
<line x1="1285.9" y1="978.1" x2="1285.9" y2="983.1"/>
<line x1="1373.6" y1="978.1" x2="1373.6" y2="983.1"/>
<line x1="1189.9" y1="970" x2="1184.9" y2="970"/>
<line x1="1189.9" y1="930" x2="1184.9" y2="930"/>
<line x1="1189.9" y1="889.5" x2="1184.9" y2="889.5"/>
<line x1="1189.9" y1="849.4" x2="1184.9" y2="849.4"/>
<line x1="1189.9" y1="809" x2="1184.9" y2="809"/>
</g>
<g font-family="'DejaVu Sans', sans-serif" font-size="16.5px" fill="#000">
<text x="1198.4" y="1004.1" text-anchor="middle" textLength="26.25" lengthAdjust="spacingAndGlyphs">0.0</text>
<text x="1285.9" y="1004.1" text-anchor="middle" textLength="26.25" lengthAdjust="spacingAndGlyphs">0.1</text>
<text x="1373.6" y="1004.1" text-anchor="middle" textLength="26.25" lengthAdjust="spacingAndGlyphs">0.2</text>
<text x="1179.9" y="976.0" text-anchor="end" textLength="26.25" lengthAdjust="spacingAndGlyphs">0.0</text>
<text x="1179.9" y="936.0" text-anchor="end" textLength="26.25" lengthAdjust="spacingAndGlyphs">0.5</text>
<text x="1179.9" y="895.5" text-anchor="end" textLength="26.25" lengthAdjust="spacingAndGlyphs">1.0</text>
<text x="1179.9" y="855.4" text-anchor="end" textLength="26.25" lengthAdjust="spacingAndGlyphs">1.5</text>
<text x="1179.9" y="815.0" text-anchor="end" textLength="26.25" lengthAdjust="spacingAndGlyphs">2.0</text>
</g>
<rect x="1674.2" y="800" width="208.89999999999986" height="176.70000000000005" fill="none" stroke="#000" stroke-width="1.6"/>
<g stroke="#000" stroke-width="1.3">
<line x1="1683.8" y1="976.7" x2="1683.8" y2="981.7"/>
<line x1="1779" y1="976.7" x2="1779" y2="981.7"/>
<line x1="1873.7" y1="976.7" x2="1873.7" y2="981.7"/>
<line x1="1674.2" y1="969" x2="1669.2" y2="969"/>
<line x1="1674.2" y1="921.5" x2="1669.2" y2="921.5"/>
<line x1="1674.2" y1="874" x2="1669.2" y2="874"/>
<line x1="1674.2" y1="826.8" x2="1669.2" y2="826.8"/>
</g>
<g font-family="'DejaVu Sans', sans-serif" font-size="16.5px" fill="#000">
<text x="1683.8" y="1002.7" text-anchor="middle" textLength="26.25" lengthAdjust="spacingAndGlyphs">0.0</text>
<text x="1779" y="1002.7" text-anchor="middle" textLength="26.25" lengthAdjust="spacingAndGlyphs">0.1</text>
<text x="1873.7" y="1002.7" text-anchor="middle" textLength="26.25" lengthAdjust="spacingAndGlyphs">0.2</text>
<text x="1664.2" y="975.0" text-anchor="end" textLength="10.50" lengthAdjust="spacingAndGlyphs">0</text>
<text x="1664.2" y="927.5" text-anchor="end" textLength="10.50" lengthAdjust="spacingAndGlyphs">2</text>
<text x="1664.2" y="880.0" text-anchor="end" textLength="10.50" lengthAdjust="spacingAndGlyphs">4</text>
<text x="1664.2" y="832.8" text-anchor="end" textLength="10.50" lengthAdjust="spacingAndGlyphs">6</text>
</g>
<text x="1191.8" y="796" font-family="'DejaVu Sans', sans-serif" font-size="16px">×10<tspan dy="-6.7" font-size="11.2px">−4</tspan></text>
<text x="1675.6" y="794" font-family="'DejaVu Sans', sans-serif" font-size="16px">×10<tspan dy="-6.7" font-size="11.2px">−5</tspan></text>
<text transform="translate(1130.5,896.5) rotate(-90)" font-size="24.1px" font-family="'Liberation Sans', Arial, sans-serif" text-anchor="middle">Norm. stress <tspan font-family="Caladea, 'Liberation Serif', serif" font-style="italic">σ</tspan><tspan font-family="Caladea, 'Liberation Serif', serif">/</tspan><tspan font-family="Caladea, 'Liberation Serif', serif" font-style="italic">E<tspan font-size="15px" dy="4">s</tspan></tspan><tspan dy="-4"> (-)</tspan></text>
<text transform="translate(1637.5,901.5) rotate(-90)" font-size="24.1px" font-family="'Liberation Sans', Arial, sans-serif" text-anchor="middle">Norm. stress <tspan font-family="Caladea, 'Liberation Serif', serif" font-style="italic">σ</tspan><tspan font-family="Caladea, 'Liberation Serif', serif">/</tspan><tspan font-family="Caladea, 'Liberation Serif', serif" font-style="italic">E<tspan font-size="15px" dy="4">s</tspan></tspan><tspan dy="-4"> (-)</tspan></text>
<text x="1282" y="1039.8" font-size="24.1px" font-family="'Liberation Sans', Arial, sans-serif" text-anchor="middle">Strain, <tspan font-family="Caladea, 'Liberation Serif', serif" font-style="italic">ε</tspan> (%)</text>
<text x="1793" y="1033.3" font-size="24.1px" font-family="'Liberation Sans', Arial, sans-serif" text-anchor="middle">Strain, <tspan font-family="Caladea, 'Liberation Serif', serif" font-style="italic">ε</tspan> (%)</text>
<text x="1087.2" y="735.4" font-size="24.1px" font-family="'Liberation Sans', Arial, sans-serif" text-anchor="start" fill="#000"  textLength="160.70" lengthAdjust="spacingAndGlyphs">GraphMetaMat</text>
<text x="1300.3" y="965" font-size="24.3px" font-family="'Liberation Sans', Arial, sans-serif" text-anchor="start" fill="#000"  textLength="67.53" lengthAdjust="spacingAndGlyphs">Target</text>
<text x="1718.3" y="825" font-size="24.3px" font-family="'Liberation Sans', Arial, sans-serif" text-anchor="start" fill="#000"  textLength="67.53" lengthAdjust="spacingAndGlyphs">Target</text>
<text x="1783.2" y="752.6" font-size="22.1px" font-family="'Liberation Sans', Arial, sans-serif" text-anchor="start" fill="#000"  textLength="85.56" lengthAdjust="spacingAndGlyphs">Diffusion</text>
<text x="1969" y="741.3" font-size="24.1px" font-family="'Liberation Sans', Arial, sans-serif" text-anchor="start" fill="#000"  textLength="107.14" lengthAdjust="spacingAndGlyphs">Prediction</text>
<text x="1969" y="771.9" font-size="24.1px" font-family="'Liberation Sans', Arial, sans-serif" text-anchor="start" fill="#000"  textLength="190.14" lengthAdjust="spacingAndGlyphs">FE-reconstruction</text>
<text x="2004" y="881" font-size="26.5px" font-family="'Liberation Sans', Arial, sans-serif" text-anchor="middle" fill="#c0282d"  textLength="160.58" lengthAdjust="spacingAndGlyphs">Disconnected</text>
<text x="2003.3" y="911.3" font-size="26.6px" font-family="'Liberation Sans', Arial, sans-serif" text-anchor="middle" fill="#c0282d"  textLength="116.77" lengthAdjust="spacingAndGlyphs">structures</text>
<text x="1159.2" y="1356.3" font-size="26px" font-family="'Liberation Sans', Arial, sans-serif" text-anchor="middle" fill="#000"  textLength="52.50" lengthAdjust="spacingAndGlyphs">True</text>
<text x="1443.1" y="1356.3" font-size="26.4px" font-family="'Liberation Sans', Arial, sans-serif" text-anchor="middle" fill="#000"  textLength="170.17" lengthAdjust="spacingAndGlyphs">Reconstructed</text>
<text x="1762.4" y="1150.5" font-size="26.3px" font-family="'Liberation Sans', Arial, sans-serif" text-anchor="middle" fill="#000"  textLength="185.64" lengthAdjust="spacingAndGlyphs">Relative density</text>
<text x="2040" y="1150.5" font-size="26.3px" font-family="'Liberation Sans', Arial, sans-serif" text-anchor="middle" fill="#000"  textLength="74.53" lengthAdjust="spacingAndGlyphs">Stress</text>
<text x="1750.6" y="1360.1" font-size="23.8px" font-family="'Liberation Sans', Arial, sans-serif" text-anchor="middle" fill="#000"  textLength="48.05" lengthAdjust="spacingAndGlyphs">True</text>
<text x="2024.4" y="1360.1" font-size="23.4px" font-family="'Liberation Sans', Arial, sans-serif" text-anchor="middle" fill="#000"  textLength="47.23" lengthAdjust="spacingAndGlyphs">True</text>
<text transform="translate(1607.0,1245.0) rotate(-90)" font-size="23.3px" font-family="'Liberation Sans', Arial, sans-serif" text-anchor="middle" textLength="155.39" lengthAdjust="spacingAndGlyphs">Reconstruction</text>
<text transform="translate(1909.2,1243.5) rotate(-90)" font-size="23.8px" font-family="'Liberation Sans', Arial, sans-serif" text-anchor="middle" textLength="105.83" lengthAdjust="spacingAndGlyphs">Prediction</text>
<rect x="1672.6" y="1169" width="174.60000000000014" height="148.0999999999999" fill="none" stroke="#222" stroke-width="1.3"/>
<g stroke="#000" stroke-width="1.3">
<line x1="1695.5" y1="1317.1" x2="1695.5" y2="1322.1"/>
<line x1="1767.2" y1="1317.1" x2="1767.2" y2="1322.1"/>
<line x1="1839" y1="1317.1" x2="1839" y2="1322.1"/>
<line x1="1672.6" y1="1175.9" x2="1667.6" y2="1175.9"/>
<line x1="1672.6" y1="1235.2" x2="1667.6" y2="1235.2"/>
<line x1="1672.6" y1="1294.5" x2="1667.6" y2="1294.5"/>
</g>
<g font-family="'DejaVu Sans', sans-serif" font-size="14.3px" fill="#000">
<text x="1695.5" y="1338.5" text-anchor="middle" textLength="31.84" lengthAdjust="spacingAndGlyphs">0.05</text>
<text x="1767.2" y="1338.5" text-anchor="middle" textLength="31.84" lengthAdjust="spacingAndGlyphs">0.15</text>
<text x="1839" y="1338.5" text-anchor="middle" textLength="31.84" lengthAdjust="spacingAndGlyphs">0.25</text>
<text x="1662.6" y="1181.1" text-anchor="end" textLength="31.84" lengthAdjust="spacingAndGlyphs">0.25</text>
<text x="1662.6" y="1240.4" text-anchor="end" textLength="31.84" lengthAdjust="spacingAndGlyphs">0.15</text>
<text x="1662.6" y="1299.7" text-anchor="end" textLength="31.84" lengthAdjust="spacingAndGlyphs">0.05</text>
</g>
<rect x="1943" y="1169.5" width="169.9000000000001" height="147.9000000000001" fill="none" stroke="#222" stroke-width="1.3"/>
<g stroke="#000" stroke-width="1.3">
<line x1="1950.1" y1="1317.4" x2="1950.1" y2="1322.4"/>
<line x1="2026" y1="1317.4" x2="2026" y2="1322.4"/>
<line x1="2102.4" y1="1317.4" x2="2102.4" y2="1322.4"/>
<line x1="1943" y1="1178.6" x2="1938" y2="1178.6"/>
<line x1="1943" y1="1244.8" x2="1938" y2="1244.8"/>
<line x1="1943" y1="1311.6" x2="1938" y2="1311.6"/>
</g>
<g font-family="'DejaVu Sans', sans-serif" font-size="14.3px" fill="#000">
<text x="1950.1" y="1338.8" text-anchor="middle" textLength="9.11" lengthAdjust="spacingAndGlyphs">0</text>
<text x="2026" y="1338.8" text-anchor="middle" textLength="9.11" lengthAdjust="spacingAndGlyphs">3</text>
<text x="2102.4" y="1338.8" text-anchor="middle" textLength="9.11" lengthAdjust="spacingAndGlyphs">6</text>
<text x="1933" y="1183.8" text-anchor="end" textLength="9.11" lengthAdjust="spacingAndGlyphs">6</text>
<text x="1933" y="1250.0" text-anchor="end" textLength="9.11" lengthAdjust="spacingAndGlyphs">3</text>
<text x="1933" y="1316.8" text-anchor="end" textLength="9.11" lengthAdjust="spacingAndGlyphs">0</text>
</g>
<text x="1944" y="1165" font-family="'DejaVu Sans', sans-serif" font-size="14px">×10<tspan dy="-5.9" font-size="9.8px">−3</tspan></text>
<text x="2071" y="1355" font-family="'DejaVu Sans', sans-serif" font-size="14px">×10<tspan dy="-5.9" font-size="9.8px">−3</tspan></text>
<g font-family="Caladea, 'Liberation Serif', serif" font-size="21.8px"><text x="1680.3" y="1193.2" font-style="italic" textLength="12.52" lengthAdjust="spacingAndGlyphs">R</text><text x="1695.6" y="1184.4" font-size="15.3px" textLength="7.23" lengthAdjust="spacingAndGlyphs">2</text><text x="1712.6" y="1193.2" font-family="'DejaVu Serif', serif" font-size="19.3px" textLength="16.16" lengthAdjust="spacingAndGlyphs">=</text><text x="1733.1" y="1193.2" font-family="'DejaVu Serif', serif" font-size="19.3px" textLength="16.16" lengthAdjust="spacingAndGlyphs">−</text><text x="1752.4" y="1193.2" letter-spacing="1.51" textLength="39.39" lengthAdjust="spacingAndGlyphs">1.64</text></g>
<g font-family="Caladea, 'Liberation Serif', serif" font-size="21.8px"><text x="1946.6" y="1195.2" font-style="italic" textLength="12.52" lengthAdjust="spacingAndGlyphs">R</text><text x="1961.9" y="1186.4" font-size="15.3px" textLength="7.23" lengthAdjust="spacingAndGlyphs">2</text><text x="1978.9" y="1195.2" font-family="'DejaVu Serif', serif" font-size="19.3px" textLength="16.16" lengthAdjust="spacingAndGlyphs">=</text><text x="1999.4" y="1195.2" font-family="'DejaVu Serif', serif" font-size="19.3px" textLength="16.16" lengthAdjust="spacingAndGlyphs">−</text><text x="2018.7" y="1195.2" letter-spacing="1.51" textLength="52.03" lengthAdjust="spacingAndGlyphs">0.718</text></g>
</svg></body></html>
